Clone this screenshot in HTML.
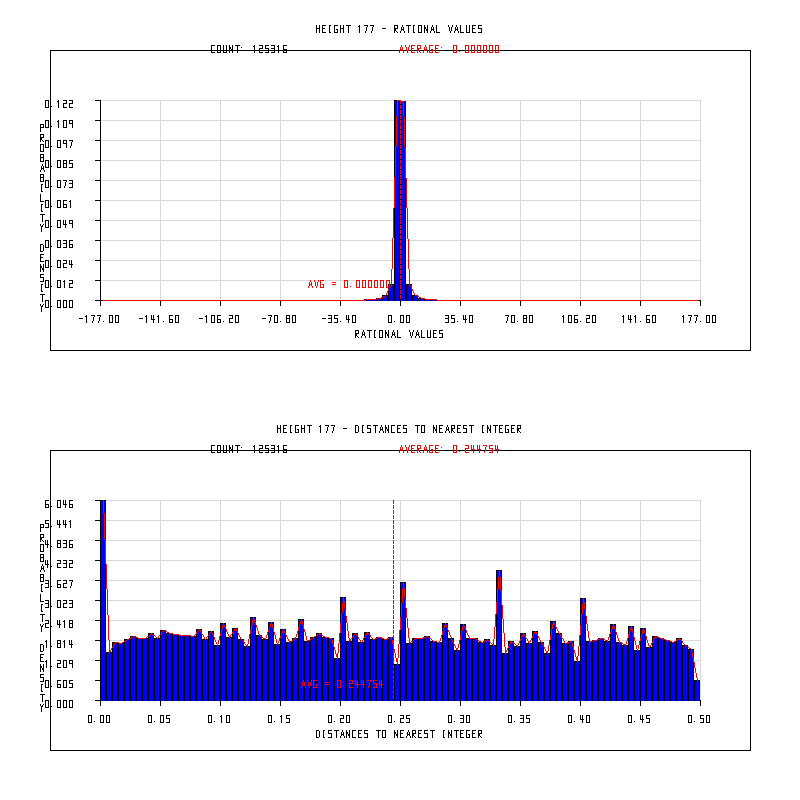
<!DOCTYPE html>
<html><head><meta charset="utf-8"><style>
html,body{margin:0;padding:0;background:#fff;width:800px;height:800px;overflow:hidden}
svg{display:block}
</style></head><body>
<svg width="800" height="800" viewBox="0 0 800 800" shape-rendering="crispEdges">
<rect width="800" height="800" fill="#ffffff"/>
<path fill="#000000" d="M370 25h4v1h-4zM413 25h2v1h-2zM394 25h4v1h-4zM334 25h4v1h-4zM472 25h4v1h-4zM406 25h5v1h-5zM418 25h4v1h-4zM346 25h5v1h-5zM478 25h4v1h-4zM322 25h4v1h-4zM364 25h4v1h-4zM359 25h1v1h-1zM329 25h2v1h-2zM402 25h1v2h-1zM432 25h1v2h-1zM456 25h1v2h-1zM424 25h1v2h-1zM452 25h1v2h-1zM448 25h1v2h-1zM358 26h2v1h-2zM367 26h1v1h-1zM373 26h1v1h-1zM316 25h1v3h-1zM343 25h1v3h-1zM340 25h1v3h-1zM319 25h1v3h-1zM397 26h1v2h-1zM394 26h1v2h-1zM472 26h1v2h-1zM478 26h1v2h-1zM322 26h1v2h-1zM427 25h1v4h-1zM403 27h1v2h-1zM431 27h1v2h-1zM424 27h2v2h-2zM455 27h1v2h-1zM433 27h1v2h-1zM401 27h1v2h-1zM457 27h1v2h-1zM322 28h3v1h-3zM394 28h4v1h-4zM316 28h4v1h-4zM340 28h4v1h-4zM478 28h4v1h-4zM382 28h4v1h-4zM472 28h3v1h-3zM401 29h3v1h-3zM336 29h2v1h-2zM431 29h3v1h-3zM455 29h3v1h-3zM366 27h1v4h-1zM449 27h1v4h-1zM372 27h1v4h-1zM451 27h1v4h-1zM394 29h2v2h-2zM426 29h2v2h-2zM403 30h1v1h-1zM431 30h1v1h-1zM455 30h1v1h-1zM433 30h1v1h-1zM401 30h1v1h-1zM457 30h1v1h-1zM466 25h1v7h-1zM436 25h1v7h-1zM469 25h1v7h-1zM460 25h1v7h-1zM329 26h1v6h-1zM421 26h1v6h-1zM334 26h1v6h-1zM413 26h1v6h-1zM418 26h1v6h-1zM481 29h1v3h-1zM472 29h1v3h-1zM322 29h1v3h-1zM337 30h1v2h-1zM396 31h1v1h-1zM348 26h1v7h-1zM408 26h1v7h-1zM359 27h1v6h-1zM316 29h1v4h-1zM343 29h1v4h-1zM340 29h1v4h-1zM424 29h1v4h-1zM319 29h1v4h-1zM434 31h1v2h-1zM394 31h1v2h-1zM458 31h1v2h-1zM430 31h1v2h-1zM371 31h1v2h-1zM427 31h1v2h-1zM454 31h1v2h-1zM450 31h1v2h-1zM404 31h1v2h-1zM400 31h1v2h-1zM365 31h1v2h-1zM466 32h4v1h-4zM413 32h2v1h-2zM397 32h1v1h-1zM334 32h4v1h-4zM472 32h4v1h-4zM436 32h4v1h-4zM418 32h4v1h-4zM478 32h4v1h-4zM322 32h4v1h-4zM460 32h4v1h-4zM329 32h2v1h-2zM254 45h1v1h-1zM283 45h4v1h-4zM217 45h4v1h-4zM259 45h4v1h-4zM211 45h4v1h-4zM278 45h1v1h-1zM265 45h4v1h-4zM271 45h4v1h-4zM235 45h5v1h-5zM229 45h1v2h-1zM253 46h2v1h-2zM277 46h2v1h-2zM262 46h1v2h-1zM265 46h1v2h-1zM274 46h1v2h-1zM241 47h1v1h-1zM232 45h1v4h-1zM283 46h1v3h-1zM229 47h2v2h-2zM259 48h4v1h-4zM265 48h4v1h-4zM271 48h4v1h-4zM226 45h1v5h-1zM223 45h1v5h-1zM217 46h1v4h-1zM237 46h1v4h-1zM211 46h1v4h-1zM220 46h1v4h-1zM254 47h1v3h-1zM278 47h1v3h-1zM283 49h4v1h-4zM231 49h2v1h-2zM259 49h1v1h-1zM229 49h1v1h-1zM274 49h1v1h-1zM268 49h1v1h-1zM425 50h1v1h-1zM427 50h2v1h-2zM436 50h5v1h-5zM454 50h2v1h-2zM407 50h1v1h-1zM496 50h2v1h-2zM469 50h2v1h-2zM478 50h2v1h-2zM487 50h2v1h-2zM409 50h2v1h-2zM419 50h5v1h-5zM433 50h2v1h-2zM442 50h11v1h-11zM403 50h3v1h-3zM484 50h2v1h-2zM493 50h2v1h-2zM466 50h2v1h-2zM457 50h8v1h-8zM475 50h2v1h-2zM481 50h2v1h-2zM401 50h1v1h-1zM490 50h2v1h-2zM430 50h2v1h-2zM499 50h252v1h-252zM412 50h5v1h-5zM472 50h2v1h-2zM50 50h350v1h-350zM286 51h1v1h-1zM283 51h1v1h-1zM217 51h1v1h-1zM259 51h1v1h-1zM211 51h1v1h-1zM220 51h1v1h-1zM226 51h1v1h-1zM274 51h1v1h-1zM268 51h1v1h-1zM223 51h1v1h-1zM254 51h1v2h-1zM237 51h1v2h-1zM229 51h1v2h-1zM232 51h1v2h-1zM278 51h1v2h-1zM283 52h4v1h-4zM217 52h4v1h-4zM259 52h4v1h-4zM211 52h4v1h-4zM265 52h4v1h-4zM223 52h4v1h-4zM271 52h4v1h-4zM45 100h4v1h-4zM394 100h3v1h-3zM58 100h1v1h-1zM63 100h4v1h-4zM69 100h4v1h-4zM95 100h6v1h-6zM57 101h2v1h-2zM404 101h2v1h-2zM72 101h1v2h-1zM66 101h1v2h-1zM399 101h1v3h-1zM63 103h4v1h-4zM69 103h4v1h-4zM399 104h2v1h-2zM50 51h1v55h-1zM45 101h1v6h-1zM48 101h1v6h-1zM63 104h1v3h-1zM69 104h1v3h-1zM50 106h2v1h-2zM58 102h1v6h-1zM45 107h4v1h-4zM63 107h4v1h-4zM69 107h4v1h-4zM399 105h1v4h-1zM399 109h2v1h-2zM399 110h1v4h-1zM399 114h2v1h-2zM399 115h1v4h-1zM100 101h1v19h-1zM399 119h2v1h-2zM45 120h4v1h-4zM58 120h1v1h-1zM63 120h4v1h-4zM69 120h4v1h-4zM95 120h6v1h-6zM57 121h2v1h-2zM72 121h1v2h-1zM69 121h1v2h-1zM399 120h1v4h-1zM69 123h4v1h-4zM40 124h4v1h-4zM399 124h2v1h-2zM50 107h1v19h-1zM45 121h1v6h-1zM63 121h1v6h-1zM48 121h1v6h-1zM66 121h1v6h-1zM40 125h1v2h-1zM43 125h1v2h-1zM50 126h2v1h-2zM58 122h1v6h-1zM72 124h1v4h-1zM45 127h4v1h-4zM63 127h4v1h-4zM40 127h4v1h-4zM399 125h1v4h-1zM399 129h2v1h-2zM40 128h1v4h-1zM399 130h1v4h-1zM40 134h4v1h-4zM399 134h2v1h-2zM40 135h1v2h-1zM43 135h1v2h-1zM40 137h4v1h-4zM399 135h1v4h-1zM100 121h1v19h-1zM40 138h2v2h-2zM399 139h2v1h-2zM45 140h4v1h-4zM63 140h4v1h-4zM57 140h4v1h-4zM42 140h1v1h-1zM69 140h4v1h-4zM95 140h6v1h-6zM40 140h1v2h-1zM72 141h1v1h-1zM43 141h1v1h-1zM63 141h1v2h-1zM66 141h1v2h-1zM399 140h1v4h-1zM63 143h4v1h-4zM40 144h4v1h-4zM399 144h2v1h-2zM50 127h1v19h-1zM71 142h1v4h-1zM405 102h1v45h-1zM45 141h1v6h-1zM48 141h1v6h-1zM57 141h1v6h-1zM60 141h1v6h-1zM50 146h2v1h-2zM66 144h1v4h-1zM70 146h1v2h-1zM45 147h4v1h-4zM57 147h4v1h-4zM399 145h1v4h-1zM399 149h2v1h-2zM40 145h1v6h-1zM43 145h1v6h-1zM40 151h4v1h-4zM399 150h1v4h-1zM40 154h4v1h-4zM399 154h2v1h-2zM40 155h1v2h-1zM43 155h1v2h-1zM40 157h4v1h-4zM399 155h1v4h-1zM100 141h1v19h-1zM399 159h2v1h-2zM40 158h1v3h-1zM43 158h1v3h-1zM45 160h4v1h-4zM63 160h4v1h-4zM57 160h4v1h-4zM69 160h4v1h-4zM95 160h6v1h-6zM40 161h4v1h-4zM63 161h1v2h-1zM66 161h1v2h-1zM69 161h1v2h-1zM399 160h1v4h-1zM63 163h4v1h-4zM69 163h4v1h-4zM399 164h2v1h-2zM50 147h1v19h-1zM42 164h1v2h-1zM45 161h1v6h-1zM48 161h1v6h-1zM57 161h1v6h-1zM60 161h1v6h-1zM72 164h1v3h-1zM63 164h1v3h-1zM66 164h1v3h-1zM50 166h2v1h-2zM41 166h1v2h-1zM43 166h1v2h-1zM45 167h4v1h-4zM63 167h4v1h-4zM57 167h4v1h-4zM69 167h4v1h-4zM399 165h1v4h-1zM41 168h3v1h-3zM41 169h1v1h-1zM43 169h1v1h-1zM399 169h2v1h-2zM44 170h1v2h-1zM40 170h1v2h-1zM399 170h1v4h-1zM40 174h4v1h-4zM399 174h2v1h-2zM394 101h1v76h-1zM40 175h1v2h-1zM43 175h1v2h-1zM40 177h4v1h-4zM399 175h1v4h-1zM100 161h1v19h-1zM399 179h2v1h-2zM40 178h1v3h-1zM43 178h1v3h-1zM45 180h4v1h-4zM63 180h4v1h-4zM57 180h4v1h-4zM69 180h4v1h-4zM95 180h6v1h-6zM66 181h1v1h-1zM40 181h4v1h-4zM72 181h1v2h-1zM399 180h1v4h-1zM69 183h4v1h-4zM41 184h2v1h-2zM399 184h2v1h-2zM50 167h1v19h-1zM65 182h1v4h-1zM45 181h1v6h-1zM48 181h1v6h-1zM57 181h1v6h-1zM60 181h1v6h-1zM72 184h1v3h-1zM50 186h2v1h-2zM64 186h1v2h-1zM45 187h4v1h-4zM57 187h4v1h-4zM69 187h4v1h-4zM399 185h1v4h-1zM399 189h2v1h-2zM41 185h1v6h-1zM41 191h2v1h-2zM399 190h1v4h-1zM399 194h2v1h-2zM399 195h1v4h-1zM100 181h1v19h-1zM399 199h2v1h-2zM40 194h1v7h-1zM45 200h4v1h-4zM70 200h1v1h-1zM63 200h4v1h-4zM57 200h4v1h-4zM95 200h6v1h-6zM69 201h2v1h-2zM40 201h4v1h-4zM399 200h1v4h-1zM63 201h1v3h-1zM41 204h2v1h-2zM63 204h4v1h-4zM399 204h2v1h-2zM50 187h1v19h-1zM45 201h1v6h-1zM48 201h1v6h-1zM57 201h1v6h-1zM60 201h1v6h-1zM63 205h1v2h-1zM66 205h1v2h-1zM50 206h2v1h-2zM70 202h1v6h-1zM45 207h4v1h-4zM63 207h4v1h-4zM57 207h4v1h-4zM399 205h1v4h-1zM399 209h2v1h-2zM41 205h1v6h-1zM41 211h2v1h-2zM399 210h1v4h-1zM40 214h5v1h-5zM399 214h2v1h-2zM399 215h1v4h-1zM100 201h1v19h-1zM399 219h2v1h-2zM45 220h4v1h-4zM57 220h4v1h-4zM69 220h4v1h-4zM95 220h6v1h-6zM42 215h1v7h-1zM72 221h1v2h-1zM69 221h1v2h-1zM65 220h1v4h-1zM63 220h1v4h-1zM399 220h1v4h-1zM69 223h4v1h-4zM63 224h4v1h-4zM43 224h1v1h-1zM399 224h2v1h-2zM50 207h1v19h-1zM40 224h1v2h-1zM42 225h1v1h-1zM45 221h1v6h-1zM48 221h1v6h-1zM57 221h1v6h-1zM60 221h1v6h-1zM41 226h2v1h-2zM50 226h2v1h-2zM72 224h1v4h-1zM65 225h1v3h-1zM45 227h4v1h-4zM57 227h4v1h-4zM399 225h1v4h-1zM399 229h2v1h-2zM41 227h1v5h-1zM399 230h1v4h-1zM399 234h2v1h-2zM399 235h1v4h-1zM100 221h1v19h-1zM399 239h2v1h-2zM45 240h4v1h-4zM63 240h4v1h-4zM57 240h4v1h-4zM69 240h4v1h-4zM95 240h6v1h-6zM66 241h1v2h-1zM399 240h1v4h-1zM69 241h1v3h-1zM63 243h4v1h-4zM40 244h3v1h-3zM69 244h4v1h-4zM399 244h2v1h-2zM50 227h1v19h-1zM45 241h1v6h-1zM48 241h1v6h-1zM57 241h1v6h-1zM60 241h1v6h-1zM66 244h1v3h-1zM72 245h1v2h-1zM69 245h1v2h-1zM50 246h2v1h-2zM45 247h4v1h-4zM63 247h4v1h-4zM57 247h4v1h-4zM69 247h4v1h-4zM399 245h1v4h-1zM399 249h2v1h-2zM40 245h1v6h-1zM43 245h1v6h-1zM40 251h3v1h-3zM399 250h1v4h-1zM40 254h4v1h-4zM399 254h2v1h-2zM40 255h1v2h-1zM40 257h3v1h-3zM399 255h1v4h-1zM100 241h1v19h-1zM399 259h2v1h-2zM40 258h1v3h-1zM95 260h6v1h-6zM45 260h4v1h-4zM63 260h4v1h-4zM57 260h4v1h-4zM40 261h4v1h-4zM66 261h1v2h-1zM399 260h1v4h-1zM69 260h1v4h-1zM71 260h1v4h-1zM63 263h4v1h-4zM69 264h4v1h-4zM399 264h2v1h-2zM50 247h1v19h-1zM40 264h1v2h-1zM45 261h1v6h-1zM48 261h1v6h-1zM57 261h1v6h-1zM60 261h1v6h-1zM63 264h1v3h-1zM50 266h2v1h-2zM43 264h1v4h-1zM71 265h1v3h-1zM40 266h2v2h-2zM45 267h4v1h-4zM63 267h4v1h-4zM57 267h4v1h-4zM399 265h1v4h-1zM42 268h2v2h-2zM399 269h2v1h-2zM40 268h1v4h-1zM43 270h1v2h-1zM399 270h1v4h-1zM40 274h4v1h-4zM399 274h2v1h-2zM40 275h1v2h-1zM40 277h4v1h-4zM399 275h1v4h-1zM100 261h1v19h-1zM399 279h2v1h-2zM43 278h1v3h-1zM45 280h4v1h-4zM64 280h1v1h-1zM57 280h4v1h-4zM69 280h4v1h-4zM95 280h6v1h-6zM40 281h4v1h-4zM63 281h2v1h-2zM72 281h1v2h-1zM405 178h1v106h-1zM394 208h1v76h-1zM399 280h1v4h-1zM69 283h4v1h-4zM41 284h2v1h-2zM410 284h2v1h-2zM392 284h3v1h-3zM390 284h1v1h-1zM399 284h2v1h-2zM405 284h4v1h-4zM50 267h1v19h-1zM45 281h1v6h-1zM48 281h1v6h-1zM57 281h1v6h-1zM60 281h1v6h-1zM388 284h1v3h-1zM69 284h1v3h-1zM411 285h1v2h-1zM50 286h2v1h-2zM64 282h1v6h-1zM45 287h4v1h-4zM57 287h4v1h-4zM69 287h4v1h-4zM399 285h1v4h-1zM388 288h1v1h-1zM399 289h2v1h-2zM41 285h1v6h-1zM41 291h2v1h-2zM399 290h1v4h-1zM411 289h1v6h-1zM388 291h1v4h-1zM40 294h5v1h-5zM399 294h2v1h-2zM417 295h1v1h-1zM386 295h3v1h-3zM411 295h4v1h-4zM382 295h3v1h-3zM382 296h1v1h-1zM417 297h1v1h-1zM399 295h1v4h-1zM417 298h4v1h-4zM376 298h1v1h-1zM100 281h1v19h-1zM364 299h1v1h-1zM393 285h2v16h-2zM405 285h2v16h-2zM411 296h2v5h-2zM387 296h2v5h-2zM381 298h2v3h-2zM423 299h2v2h-2zM399 299h2v2h-2zM417 299h2v2h-2zM45 300h4v1h-4zM63 300h4v1h-4zM69 300h4v1h-4zM369 300h2v1h-2zM429 300h2v1h-2zM375 300h2v1h-2zM95 300h8v1h-8zM57 300h4v1h-4zM435 300h2v1h-2zM698 300h3v1h-3zM42 295h1v7h-1zM43 304h1v1h-1zM50 287h1v19h-1zM100 301h1v5h-1zM160 301h1v5h-1zM220 301h1v5h-1zM280 301h1v5h-1zM340 301h1v5h-1zM400 301h1v5h-1zM460 301h1v5h-1zM520 301h1v5h-1zM640 301h1v5h-1zM580 301h1v5h-1zM700 301h1v5h-1zM40 304h1v2h-1zM42 305h1v1h-1zM72 301h1v6h-1zM45 301h1v6h-1zM63 301h1v6h-1zM60 301h1v6h-1zM69 301h1v6h-1zM48 301h1v6h-1zM57 301h1v6h-1zM66 301h1v6h-1zM41 306h2v1h-2zM50 306h2v1h-2zM45 307h4v1h-4zM63 307h4v1h-4zM57 307h4v1h-4zM69 307h4v1h-4zM41 307h1v5h-1zM586 315h4v1h-4zM388 315h4v1h-4zM292 315h4v1h-4zM623 315h1v1h-1zM86 315h1v1h-1zM563 315h1v1h-1zM352 315h4v1h-4zM169 315h4v1h-4zM274 315h4v1h-4zM683 315h1v1h-1zM646 315h4v1h-4zM334 315h4v1h-4zM91 315h4v1h-4zM109 315h4v1h-4zM206 315h1v1h-1zM688 315h4v1h-4zM568 315h4v1h-4zM706 315h4v1h-4zM146 315h1v1h-1zM523 315h4v1h-4zM445 315h4v1h-4zM211 315h4v1h-4zM229 315h4v1h-4zM574 315h4v1h-4zM592 315h4v1h-4zM505 315h4v1h-4zM97 315h4v1h-4zM652 315h4v1h-4zM235 315h4v1h-4zM115 315h4v1h-4zM694 315h4v1h-4zM469 315h4v1h-4zM712 315h4v1h-4zM400 315h4v1h-4zM175 315h4v1h-4zM529 315h4v1h-4zM451 315h4v1h-4zM268 315h4v1h-4zM406 315h4v1h-4zM511 315h4v1h-4zM286 315h4v1h-4zM635 315h1v1h-1zM217 315h4v1h-4zM328 315h4v1h-4zM158 315h1v1h-1zM691 316h1v1h-1zM508 316h1v1h-1zM100 316h1v1h-1zM157 316h2v1h-2zM634 316h2v1h-2zM697 316h1v1h-1zM271 316h1v1h-1zM562 316h2v1h-2zM85 316h2v1h-2zM682 316h2v1h-2zM145 316h2v1h-2zM622 316h2v1h-2zM205 316h2v1h-2zM94 316h1v1h-1zM526 316h1v2h-1zM334 316h1v2h-1zM523 316h1v2h-1zM289 316h1v2h-1zM331 316h1v2h-1zM451 316h1v2h-1zM286 316h1v2h-1zM589 316h1v2h-1zM448 316h1v2h-1zM232 316h1v2h-1zM628 315h1v4h-1zM348 315h1v4h-1zM151 315h1v4h-1zM463 315h1v4h-1zM465 315h1v4h-1zM630 315h1v4h-1zM346 315h1v4h-1zM153 315h1v4h-1zM169 316h1v3h-1zM646 316h1v3h-1zM574 316h1v3h-1zM217 316h1v3h-1zM79 318h4v1h-4zM451 318h4v1h-4zM328 318h4v1h-4zM334 318h4v1h-4zM523 318h4v1h-4zM586 318h4v1h-4zM139 318h4v1h-4zM286 318h4v1h-4zM445 318h4v1h-4zM229 318h4v1h-4zM262 318h4v1h-4zM322 318h4v1h-4zM199 318h4v1h-4zM169 319h4v1h-4zM628 319h4v1h-4zM646 319h4v1h-4zM463 319h4v1h-4zM151 319h4v1h-4zM574 319h4v1h-4zM217 319h4v1h-4zM346 319h4v1h-4zM99 317h1v4h-1zM696 317h1v4h-1zM270 317h1v4h-1zM93 317h1v4h-1zM690 317h1v4h-1zM507 317h1v4h-1zM292 316h1v6h-1zM388 316h1v6h-1zM118 316h1v6h-1zM655 316h1v6h-1zM352 316h1v6h-1zM715 316h1v6h-1zM274 316h1v6h-1zM178 316h1v6h-1zM403 316h1v6h-1zM109 316h1v6h-1zM238 316h1v6h-1zM568 316h1v6h-1zM472 316h1v6h-1zM706 316h1v6h-1zM532 316h1v6h-1zM211 316h1v6h-1zM592 316h1v6h-1zM514 316h1v6h-1zM652 316h1v6h-1zM115 316h1v6h-1zM469 316h1v6h-1zM235 316h1v6h-1zM175 316h1v6h-1zM391 316h1v6h-1zM400 316h1v6h-1zM529 316h1v6h-1zM712 316h1v6h-1zM409 316h1v6h-1zM511 316h1v6h-1zM277 316h1v6h-1zM295 316h1v6h-1zM406 316h1v6h-1zM112 316h1v6h-1zM571 316h1v6h-1zM355 316h1v6h-1zM709 316h1v6h-1zM214 316h1v6h-1zM595 316h1v6h-1zM526 319h1v3h-1zM523 319h1v3h-1zM289 319h1v3h-1zM229 319h1v3h-1zM454 319h1v3h-1zM331 319h1v3h-1zM286 319h1v3h-1zM337 319h1v3h-1zM448 319h1v3h-1zM586 319h1v3h-1zM577 320h1v2h-1zM169 320h1v2h-1zM646 320h1v2h-1zM220 320h1v2h-1zM574 320h1v2h-1zM217 320h1v2h-1zM649 320h1v2h-1zM172 320h1v2h-1zM163 321h1v1h-1zM280 321h1v1h-1zM103 321h1v1h-1zM640 321h1v1h-1zM457 321h1v1h-1zM394 321h1v1h-1zM340 321h1v1h-1zM580 321h1v1h-1zM700 321h1v1h-1zM517 321h1v1h-1zM223 321h1v1h-1zM623 317h1v6h-1zM86 317h1v6h-1zM563 317h1v6h-1zM683 317h1v6h-1zM206 317h1v6h-1zM146 317h1v6h-1zM635 317h1v6h-1zM158 317h1v6h-1zM348 320h1v3h-1zM465 320h1v3h-1zM630 320h1v3h-1zM153 320h1v3h-1zM689 321h1v2h-1zM269 321h1v2h-1zM695 321h1v2h-1zM92 321h1v2h-1zM506 321h1v2h-1zM98 321h1v2h-1zM586 322h4v1h-4zM388 322h4v1h-4zM292 322h4v1h-4zM352 322h4v1h-4zM169 322h4v1h-4zM274 322h4v1h-4zM646 322h4v1h-4zM334 322h4v1h-4zM109 322h4v1h-4zM568 322h4v1h-4zM706 322h4v1h-4zM523 322h4v1h-4zM445 322h4v1h-4zM211 322h4v1h-4zM229 322h4v1h-4zM574 322h4v1h-4zM592 322h4v1h-4zM652 322h4v1h-4zM235 322h4v1h-4zM115 322h4v1h-4zM469 322h4v1h-4zM712 322h4v1h-4zM400 322h4v1h-4zM175 322h4v1h-4zM529 322h4v1h-4zM451 322h4v1h-4zM406 322h4v1h-4zM511 322h4v1h-4zM286 322h4v1h-4zM217 322h4v1h-4zM328 322h4v1h-4zM379 330h4v1h-4zM367 330h5v1h-5zM439 330h4v1h-4zM374 330h2v1h-2zM433 330h4v1h-4zM355 330h4v1h-4zM393 330h1v2h-1zM417 330h1v2h-1zM385 330h1v2h-1zM413 330h1v2h-1zM363 330h1v2h-1zM409 330h1v2h-1zM439 331h1v2h-1zM358 331h1v2h-1zM433 331h1v2h-1zM355 331h1v2h-1zM388 330h1v4h-1zM416 332h1v2h-1zM394 332h1v2h-1zM362 332h1v2h-1zM418 332h1v2h-1zM364 332h1v2h-1zM392 332h1v2h-1zM385 332h2v2h-2zM439 333h4v1h-4zM433 333h3v1h-3zM355 333h4v1h-4zM392 334h3v1h-3zM416 334h3v1h-3zM362 334h3v1h-3zM412 332h1v4h-1zM410 332h1v4h-1zM387 334h2v2h-2zM355 334h2v2h-2zM416 335h1v1h-1zM394 335h1v1h-1zM362 335h1v1h-1zM418 335h1v1h-1zM364 335h1v1h-1zM392 335h1v1h-1zM397 330h1v7h-1zM430 330h1v7h-1zM421 330h1v7h-1zM427 330h1v7h-1zM379 331h1v6h-1zM382 331h1v6h-1zM374 331h1v6h-1zM433 334h1v3h-1zM442 334h1v3h-1zM357 336h1v1h-1zM369 331h1v7h-1zM385 334h1v4h-1zM361 336h1v2h-1zM388 336h1v2h-1zM395 336h1v2h-1zM391 336h1v2h-1zM419 336h1v2h-1zM415 336h1v2h-1zM355 336h1v2h-1zM365 336h1v2h-1zM411 336h1v2h-1zM379 337h4v1h-4zM397 337h4v1h-4zM439 337h4v1h-4zM421 337h4v1h-4zM427 337h4v1h-4zM358 337h1v1h-1zM374 337h2v1h-2zM433 337h4v1h-4zM750 51h1v299h-1zM50 307h1v43h-1zM50 350h701v1h-701zM457 425h4v1h-4zM482 425h2v1h-2zM307 425h5v1h-5zM283 425h4v1h-4zM517 425h4v1h-4zM397 425h4v1h-4zM320 425h1v1h-1zM439 425h4v1h-4zM499 425h4v1h-4zM355 425h3v1h-3zM290 425h2v1h-2zM403 425h4v1h-4zM421 425h4v1h-4zM469 425h5v1h-5zM325 425h4v1h-4zM373 425h5v1h-5zM463 425h4v1h-4zM367 425h4v1h-4zM415 425h5v1h-5zM505 425h4v1h-4zM331 425h4v1h-4zM493 425h5v1h-5zM391 425h4v1h-4zM451 425h4v1h-4zM295 425h4v1h-4zM511 425h4v1h-4zM362 425h2v1h-2zM385 425h1v2h-1zM381 425h1v2h-1zM487 425h1v2h-1zM433 425h1v2h-1zM447 425h1v2h-1zM334 426h1v1h-1zM319 426h2v1h-2zM328 426h1v1h-1zM301 425h1v3h-1zM280 425h1v3h-1zM304 425h1v3h-1zM277 425h1v3h-1zM283 426h1v2h-1zM397 426h1v2h-1zM517 426h1v2h-1zM439 426h1v2h-1zM499 426h1v2h-1zM403 426h1v2h-1zM463 426h1v2h-1zM454 426h1v2h-1zM367 426h1v2h-1zM451 426h1v2h-1zM511 426h1v2h-1zM520 426h1v2h-1zM457 426h1v2h-1zM388 425h1v4h-1zM490 425h1v4h-1zM436 425h1v4h-1zM380 427h1v2h-1zM487 427h2v2h-2zM433 427h2v2h-2zM382 427h1v2h-1zM446 427h1v2h-1zM385 427h2v2h-2zM448 427h1v2h-1zM301 428h4v1h-4zM511 428h3v1h-3zM517 428h4v1h-4zM403 428h4v1h-4zM463 428h4v1h-4zM343 428h4v1h-4zM457 428h3v1h-3zM283 428h3v1h-3zM397 428h3v1h-3zM367 428h4v1h-4zM439 428h3v1h-3zM499 428h3v1h-3zM451 428h4v1h-4zM277 428h4v1h-4zM507 429h2v1h-2zM380 429h3v1h-3zM297 429h2v1h-2zM446 429h3v1h-3zM333 427h1v4h-1zM327 427h1v4h-1zM387 429h2v2h-2zM451 429h2v2h-2zM489 429h2v2h-2zM517 429h2v2h-2zM435 429h2v2h-2zM380 430h1v1h-1zM382 430h1v1h-1zM446 430h1v1h-1zM448 430h1v1h-1zM421 426h1v6h-1zM482 426h1v6h-1zM362 426h1v6h-1zM358 426h1v6h-1zM505 426h1v6h-1zM290 426h1v6h-1zM391 426h1v6h-1zM295 426h1v6h-1zM424 426h1v6h-1zM355 426h1v6h-1zM370 429h1v3h-1zM283 429h1v3h-1zM397 429h1v3h-1zM466 429h1v3h-1zM439 429h1v3h-1zM499 429h1v3h-1zM511 429h1v3h-1zM406 429h1v3h-1zM457 429h1v3h-1zM508 430h1v2h-1zM298 430h1v2h-1zM453 431h1v1h-1zM519 431h1v1h-1zM471 426h1v7h-1zM375 426h1v7h-1zM495 426h1v7h-1zM417 426h1v7h-1zM309 426h1v7h-1zM320 427h1v6h-1zM301 429h1v4h-1zM385 429h1v4h-1zM280 429h1v4h-1zM487 429h1v4h-1zM304 429h1v4h-1zM277 429h1v4h-1zM433 429h1v4h-1zM379 431h1v2h-1zM388 431h1v2h-1zM517 431h1v2h-1zM490 431h1v2h-1zM449 431h1v2h-1zM436 431h1v2h-1zM445 431h1v2h-1zM326 431h1v2h-1zM332 431h1v2h-1zM451 431h1v2h-1zM383 431h1v2h-1zM457 432h4v1h-4zM482 432h2v1h-2zM283 432h4v1h-4zM397 432h4v1h-4zM439 432h4v1h-4zM499 432h4v1h-4zM355 432h3v1h-3zM290 432h2v1h-2zM403 432h4v1h-4zM421 432h4v1h-4zM463 432h4v1h-4zM454 432h1v1h-1zM367 432h4v1h-4zM505 432h4v1h-4zM391 432h4v1h-4zM520 432h1v1h-1zM295 432h4v1h-4zM511 432h4v1h-4zM362 432h2v1h-2zM254 445h1v1h-1zM283 445h4v1h-4zM217 445h4v1h-4zM259 445h4v1h-4zM211 445h4v1h-4zM278 445h1v1h-1zM265 445h4v1h-4zM271 445h4v1h-4zM235 445h5v1h-5zM229 445h1v2h-1zM253 446h2v1h-2zM277 446h2v1h-2zM262 446h1v2h-1zM265 446h1v2h-1zM274 446h1v2h-1zM241 447h1v1h-1zM232 445h1v4h-1zM283 446h1v3h-1zM229 447h2v2h-2zM259 448h4v1h-4zM265 448h4v1h-4zM271 448h4v1h-4zM226 445h1v5h-1zM223 445h1v5h-1zM217 446h1v4h-1zM237 446h1v4h-1zM211 446h1v4h-1zM220 446h1v4h-1zM254 447h1v3h-1zM278 447h1v3h-1zM283 449h4v1h-4zM231 449h2v1h-2zM259 449h1v1h-1zM229 449h1v1h-1zM274 449h1v1h-1zM268 449h1v1h-1zM425 450h1v1h-1zM427 450h2v1h-2zM466 450h7v1h-7zM436 450h5v1h-5zM454 450h2v1h-2zM407 450h1v1h-1zM498 450h253v1h-253zM409 450h2v1h-2zM474 450h5v1h-5zM419 450h5v1h-5zM433 450h2v1h-2zM442 450h11v1h-11zM403 450h3v1h-3zM486 450h6v1h-6zM457 450h8v1h-8zM480 450h5v1h-5zM401 450h1v1h-1zM430 450h2v1h-2zM412 450h5v1h-5zM493 450h4v1h-4zM50 450h350v1h-350zM286 451h1v1h-1zM283 451h1v1h-1zM217 451h1v1h-1zM259 451h1v1h-1zM211 451h1v1h-1zM220 451h1v1h-1zM226 451h1v1h-1zM274 451h1v1h-1zM268 451h1v1h-1zM223 451h1v1h-1zM254 451h1v2h-1zM237 451h1v2h-1zM229 451h1v2h-1zM232 451h1v2h-1zM278 451h1v2h-1zM283 452h4v1h-4zM217 452h4v1h-4zM259 452h4v1h-4zM211 452h4v1h-4zM265 452h4v1h-4zM223 452h4v1h-4zM271 452h4v1h-4zM45 500h4v1h-4zM104 500h2v1h-2zM95 500h8v1h-8zM57 500h4v1h-4zM69 500h4v1h-4zM65 500h1v4h-1zM63 500h1v4h-1zM45 501h1v3h-1zM69 501h1v3h-1zM45 504h4v1h-4zM63 504h4v1h-4zM69 504h4v1h-4zM50 451h1v55h-1zM57 501h1v6h-1zM60 501h1v6h-1zM72 505h1v2h-1zM45 505h1v2h-1zM48 505h1v2h-1zM69 505h1v2h-1zM50 506h2v1h-2zM65 505h1v3h-1zM45 507h4v1h-4zM57 507h4v1h-4zM69 507h4v1h-4zM100 501h1v19h-1zM45 520h4v1h-4zM70 520h1v1h-1zM95 520h6v1h-6zM69 521h2v1h-2zM45 521h1v2h-1zM65 520h1v4h-1zM63 520h1v4h-1zM57 520h1v4h-1zM59 520h1v4h-1zM45 523h4v1h-4zM63 524h4v1h-4zM57 524h4v1h-4zM40 524h4v1h-4zM50 507h1v19h-1zM48 524h1v3h-1zM40 525h1v2h-1zM43 525h1v2h-1zM50 526h2v1h-2zM70 522h1v6h-1zM65 525h1v3h-1zM59 525h1v3h-1zM45 527h4v1h-4zM40 527h4v1h-4zM40 528h1v4h-1zM40 534h4v1h-4zM40 535h1v2h-1zM43 535h1v2h-1zM40 537h4v1h-4zM105 501h1v38h-1zM100 521h1v19h-1zM40 538h2v2h-2zM63 540h4v1h-4zM57 540h4v1h-4zM42 540h1v1h-1zM69 540h4v1h-4zM95 540h6v1h-6zM40 540h1v2h-1zM43 541h1v1h-1zM57 541h1v2h-1zM66 541h1v2h-1zM60 541h1v2h-1zM45 540h1v4h-1zM47 540h1v4h-1zM69 541h1v3h-1zM63 543h4v1h-4zM57 543h4v1h-4zM45 544h4v1h-4zM40 544h4v1h-4zM69 544h4v1h-4zM50 527h1v19h-1zM57 544h1v3h-1zM66 544h1v3h-1zM60 544h1v3h-1zM72 545h1v2h-1zM69 545h1v2h-1zM50 546h2v1h-2zM47 545h1v3h-1zM63 547h4v1h-4zM57 547h4v1h-4zM69 547h4v1h-4zM40 545h1v6h-1zM43 545h1v6h-1zM40 551h4v1h-4zM40 554h4v1h-4zM40 555h1v2h-1zM43 555h1v2h-1zM40 557h4v1h-4zM100 541h1v19h-1zM40 558h1v3h-1zM43 558h1v3h-1zM63 560h4v1h-4zM57 560h4v1h-4zM69 560h4v1h-4zM95 560h6v1h-6zM40 561h4v1h-4zM72 561h1v2h-1zM66 561h1v2h-1zM60 561h1v2h-1zM45 560h1v4h-1zM47 560h1v4h-1zM63 563h4v1h-4zM57 563h4v1h-4zM69 563h4v1h-4zM45 564h4v1h-4zM50 547h1v19h-1zM42 564h1v2h-1zM57 564h1v3h-1zM66 564h1v3h-1zM69 564h1v3h-1zM50 566h2v1h-2zM47 565h1v3h-1zM41 566h1v2h-1zM43 566h1v2h-1zM63 567h4v1h-4zM57 567h4v1h-4zM69 567h4v1h-4zM41 568h3v1h-3zM41 569h1v1h-1zM43 569h1v1h-1zM500 570h2v1h-2zM496 570h3v1h-3zM44 570h1v2h-1zM40 570h1v2h-1zM40 574h4v1h-4zM40 575h1v2h-1zM43 575h1v2h-1zM40 577h4v1h-4zM100 561h1v19h-1zM40 578h1v3h-1zM43 578h1v3h-1zM45 580h4v1h-4zM63 580h4v1h-4zM57 580h4v1h-4zM69 580h4v1h-4zM95 580h6v1h-6zM72 581h1v1h-1zM40 581h4v1h-4zM48 581h1v2h-1zM66 581h1v2h-1zM400 582h3v1h-3zM404 582h2v1h-2zM57 581h1v3h-1zM45 583h4v1h-4zM63 583h4v1h-4zM41 584h2v1h-2zM57 584h4v1h-4zM50 567h1v19h-1zM71 582h1v4h-1zM63 584h1v3h-1zM48 584h1v3h-1zM57 585h1v2h-1zM60 585h1v2h-1zM50 586h2v1h-2zM70 586h1v2h-1zM45 587h4v1h-4zM63 587h4v1h-4zM57 587h4v1h-4zM501 571h1v20h-1zM41 585h1v6h-1zM41 591h2v1h-2zM405 583h1v15h-1zM340 597h3v1h-3zM344 597h2v1h-2zM584 598h2v1h-2zM580 598h3v1h-3zM100 581h1v19h-1zM40 594h1v7h-1zM45 600h4v1h-4zM63 600h4v1h-4zM57 600h4v1h-4zM69 600h4v1h-4zM95 600h6v1h-6zM496 571h1v31h-1zM40 601h4v1h-4zM72 601h1v2h-1zM48 601h1v2h-1zM66 601h1v2h-1zM45 603h4v1h-4zM63 603h4v1h-4zM69 603h4v1h-4zM41 604h2v1h-2zM50 587h1v19h-1zM57 601h1v6h-1zM60 601h1v6h-1zM72 604h1v3h-1zM63 604h1v3h-1zM48 604h1v3h-1zM50 606h2v1h-2zM45 607h4v1h-4zM63 607h4v1h-4zM57 607h4v1h-4zM69 607h4v1h-4zM345 598h1v11h-1zM585 599h1v10h-1zM41 605h1v6h-1zM41 611h2v1h-2zM40 614h5v1h-5zM400 583h1v34h-1zM250 617h3v1h-3zM254 617h2v1h-2zM100 601h1v19h-1zM302 619h2v1h-2zM298 619h3v1h-3zM45 620h4v1h-4zM64 620h1v1h-1zM69 620h4v1h-4zM95 620h6v1h-6zM42 615h1v7h-1zM255 618h1v4h-1zM63 621h2v1h-2zM550 621h3v1h-3zM554 621h2v1h-2zM340 598h1v25h-1zM72 621h1v2h-1zM69 621h1v2h-1zM48 621h1v2h-1zM268 622h3v1h-3zM272 622h2v1h-2zM59 620h1v4h-1zM57 620h1v4h-1zM442 623h3v1h-3zM446 623h2v1h-2zM45 623h4v1h-4zM69 623h4v1h-4zM220 623h3v1h-3zM224 623h2v1h-2zM580 599h1v26h-1zM303 620h1v5h-1zM555 622h1v3h-1zM460 624h3v1h-3zM464 624h2v1h-2zM43 624h1v1h-1zM610 624h3v1h-3zM57 624h4v1h-4zM614 624h2v1h-2zM50 607h1v19h-1zM40 624h1v2h-1zM42 625h1v1h-1zM298 620h1v7h-1zM72 624h1v3h-1zM45 624h1v3h-1zM69 624h1v3h-1zM225 624h1v3h-1zM447 624h1v3h-1zM41 626h2v1h-2zM50 626h2v1h-2zM628 626h3v1h-3zM632 626h2v1h-2zM64 622h1v6h-1zM273 623h1v5h-1zM59 625h1v3h-1zM465 625h1v3h-1zM45 627h4v1h-4zM69 627h4v1h-4zM615 625h1v4h-1zM640 628h3v1h-3zM232 628h3v1h-3zM644 628h2v1h-2zM236 628h2v1h-2zM250 618h1v12h-1zM268 623h1v7h-1zM284 629h2v1h-2zM196 629h3v1h-3zM200 629h2v1h-2zM280 629h3v1h-3zM442 624h1v7h-1zM237 629h1v2h-1zM165 630h1v1h-1zM160 630h3v1h-3zM610 625h1v7h-1zM41 627h1v5h-1zM232 629h1v3h-1zM196 630h1v2h-1zM201 630h1v2h-1zM208 631h3v1h-3zM212 631h2v1h-2zM532 631h3v1h-3zM536 631h2v1h-2zM220 624h1v9h-1zM633 627h1v6h-1zM555 627h1v6h-1zM645 629h1v4h-1zM285 630h1v3h-1zM364 632h3v1h-3zM368 632h2v1h-2zM165 632h1v1h-1zM628 627h1v7h-1zM160 631h1v3h-1zM537 632h1v2h-1zM560 633h2v1h-2zM152 633h2v1h-2zM520 633h3v1h-3zM524 633h2v1h-2zM555 633h4v1h-4zM165 633h4v1h-4zM352 633h3v1h-3zM316 633h3v1h-3zM356 633h2v1h-2zM320 633h2v1h-2zM369 633h1v1h-1zM148 633h3v1h-3zM550 622h1v13h-1zM255 625h1v10h-1zM460 625h1v10h-1zM208 632h1v3h-1zM213 632h1v3h-1zM316 634h1v1h-1zM153 634h1v1h-1zM280 630h1v6h-1zM532 632h1v4h-1zM196 634h1v2h-1zM357 634h1v2h-1zM148 634h1v2h-1zM561 634h1v2h-1zM525 634h1v2h-1zM255 635h4v1h-4zM260 635h2v1h-2zM225 629h1v8h-1zM364 633h1v4h-1zM352 634h1v3h-1zM232 634h1v3h-1zM321 635h1v2h-1zM194 636h3v1h-3zM130 636h3v1h-3zM316 636h1v1h-1zM428 636h2v1h-2zM424 636h2v1h-2zM657 636h1v1h-1zM135 636h1v1h-1zM652 636h3v1h-3zM640 629h1v9h-1zM465 630h1v8h-1zM447 630h1v8h-1zM298 631h1v7h-1zM160 635h1v3h-1zM153 636h1v2h-1zM376 637h2v1h-2zM314 637h3v1h-3zM310 637h3v1h-3zM321 637h4v1h-4zM381 637h1v1h-1zM225 637h4v1h-4zM148 637h1v1h-1zM388 637h2v1h-2zM130 637h1v1h-1zM392 637h1v1h-1zM429 637h1v1h-1zM230 637h3v1h-3zM268 632h1v7h-1zM237 633h1v6h-1zM201 634h1v5h-1zM520 634h1v5h-1zM369 635h1v4h-1zM208 636h1v3h-1zM261 637h1v2h-1zM676 638h3v1h-3zM135 638h3v1h-3zM310 638h1v1h-1zM598 638h2v1h-2zM680 638h2v1h-2zM158 638h3v1h-3zM296 638h3v1h-3zM332 638h2v1h-2zM292 638h3v1h-3zM412 638h3v1h-3zM452 638h2v1h-2zM465 638h4v1h-4zM146 638h3v1h-3zM153 638h4v1h-4zM603 638h1v1h-1zM657 638h3v1h-3zM476 638h2v1h-2zM663 638h1v1h-1zM447 638h4v1h-4zM100 621h1v19h-1zM201 639h4v1h-4zM381 639h3v1h-3zM681 639h1v1h-1zM369 639h4v1h-4zM242 639h2v1h-2zM292 639h1v1h-1zM237 639h4v1h-4zM488 639h2v1h-2zM206 639h3v1h-3zM266 639h3v1h-3zM393 639h1v1h-1zM484 639h3v1h-3zM261 639h4v1h-4zM676 639h1v1h-1zM124 639h3v1h-3zM345 616h1v25h-1zM585 616h1v25h-1zM303 629h1v12h-1zM610 634h1v7h-1zM652 637h1v4h-1zM352 638h1v3h-1zM412 639h1v2h-1zM429 639h1v2h-1zM489 640h1v1h-1zM592 640h1v1h-1zM603 640h1v1h-1zM57 640h4v1h-4zM243 640h1v1h-1zM46 640h1v1h-1zM669 640h1v1h-1zM663 640h3v1h-3zM64 640h1v1h-1zM95 640h6v1h-6zM484 640h1v1h-1zM310 640h1v1h-1zM124 640h1v1h-1zM615 632h1v10h-1zM285 635h1v7h-1zM442 635h1v7h-1zM537 636h1v6h-1zM357 637h1v5h-1zM364 638h1v4h-1zM453 639h1v3h-1zM477 640h1v2h-1zM303 641h4v1h-4zM572 641h2v1h-2zM292 641h1v1h-1zM350 641h3v1h-3zM508 641h3v1h-3zM429 641h4v1h-4zM585 641h4v1h-4zM63 641h2v1h-2zM608 641h3v1h-3zM345 641h4v1h-4zM45 641h2v1h-2zM512 641h2v1h-2zM676 641h1v1h-1zM603 641h4v1h-4zM308 641h3v1h-3zM568 641h2v1h-2zM405 608h1v35h-1zM532 638h1v5h-1zM561 638h1v5h-1zM525 638h1v5h-1zM57 641h1v2h-1zM60 641h1v2h-1zM412 642h1v1h-1zM542 642h2v1h-2zM440 642h3v1h-3zM290 642h3v1h-3zM513 642h1v1h-1zM615 642h4v1h-4zM112 642h3v1h-3zM669 642h3v1h-3zM285 642h4v1h-4zM674 642h3v1h-3zM362 642h3v1h-3zM357 642h4v1h-4zM477 642h4v1h-4zM124 642h1v1h-1zM537 642h4v1h-4zM621 642h1v1h-1zM273 632h1v12h-1zM280 638h1v6h-1zM333 639h1v5h-1zM71 640h1v4h-1zM69 640h1v4h-1zM410 643h3v1h-3zM530 643h3v1h-3zM57 643h4v1h-4zM525 643h4v1h-4zM561 643h4v1h-4zM405 643h4v1h-4zM122 643h3v1h-3zM496 614h1v31h-1zM220 636h1v9h-1zM213 637h1v8h-1zM628 638h1v7h-1zM681 641h1v4h-1zM489 642h1v3h-1zM543 643h1v2h-1zM40 644h3v1h-3zM273 644h4v1h-4zM69 644h4v1h-4zM278 644h3v1h-3zM621 644h1v1h-1zM50 627h1v19h-1zM250 634h1v12h-1zM520 641h1v5h-1zM508 642h1v4h-1zM243 642h1v4h-1zM513 644h1v2h-1zM626 645h3v1h-3zM686 645h2v1h-2zM213 645h4v1h-4zM489 645h4v1h-4zM621 645h4v1h-4zM681 645h4v1h-4zM218 645h3v1h-3zM494 645h3v1h-3zM645 636h1v11h-1zM573 642h1v5h-1zM652 643h1v4h-1zM112 643h1v4h-1zM57 644h1v3h-1zM60 644h1v3h-1zM50 646h2v1h-2zM513 646h4v1h-4zM243 646h4v1h-4zM518 646h3v1h-3zM248 646h3v1h-3zM46 642h1v6h-1zM64 642h1v6h-1zM71 645h1v3h-1zM650 647h3v1h-3zM57 647h4v1h-4zM645 647h4v1h-4zM687 647h1v2h-1zM633 637h1v13h-1zM460 640h1v10h-1zM640 641h1v9h-1zM453 644h1v6h-1zM687 649h4v1h-4zM393 649h1v1h-1zM692 649h2v1h-2zM40 645h1v6h-1zM43 645h1v6h-1zM453 650h4v1h-4zM633 650h4v1h-4zM638 650h3v1h-3zM458 650h3v1h-3zM105 564h1v88h-1zM112 648h1v4h-1zM40 651h3v1h-3zM501 605h1v48h-1zM550 640h1v13h-1zM543 647h1v6h-1zM508 648h1v5h-1zM105 652h4v1h-4zM110 652h3v1h-3zM543 653h4v1h-4zM548 653h3v1h-3zM501 653h4v1h-4zM506 653h3v1h-3zM40 654h4v1h-4zM393 654h1v1h-1zM693 650h1v7h-1zM40 655h1v2h-1zM340 633h1v25h-1zM333 647h1v11h-1zM40 657h3v1h-3zM333 658h4v1h-4zM338 658h3v1h-3zM100 641h1v19h-1zM393 659h1v1h-1zM580 635h1v26h-1zM573 650h1v11h-1zM40 658h1v3h-1zM57 660h4v1h-4zM46 660h1v1h-1zM63 660h4v1h-4zM69 660h4v1h-4zM95 660h6v1h-6zM40 661h4v1h-4zM578 661h3v1h-3zM45 661h2v1h-2zM573 661h4v1h-4zM72 661h1v2h-1zM60 661h1v2h-1zM69 661h1v2h-1zM400 630h1v34h-1zM57 663h4v1h-4zM69 663h4v1h-4zM393 664h4v1h-4zM398 664h3v1h-3zM50 647h1v19h-1zM40 664h1v2h-1zM63 661h1v6h-1zM66 661h1v6h-1zM57 664h1v3h-1zM50 666h2v1h-2zM46 662h1v6h-1zM72 664h1v4h-1zM43 664h1v4h-1zM40 666h2v2h-2zM57 667h4v1h-4zM63 667h4v1h-4zM394 665h1v4h-1zM42 668h2v2h-2zM393 669h2v1h-2zM40 668h1v4h-1zM43 670h1v2h-1zM394 670h1v4h-1zM393 674h2v1h-2zM40 674h4v1h-4zM40 675h1v2h-1zM40 677h4v1h-4zM394 675h1v4h-1zM315 638h2v42h-2zM375 639h2v41h-2zM369 640h2v40h-2zM381 640h2v40h-2zM303 642h2v38h-2zM351 642h2v38h-2zM363 643h2v37h-2zM357 643h2v37h-2zM339 659h2v21h-2zM100 661h1v19h-1zM693 662h1v18h-1zM393 679h2v1h-2zM43 678h1v3h-1zM698 680h2v1h-2zM693 680h4v1h-4zM57 680h4v1h-4zM63 680h4v1h-4zM69 680h4v1h-4zM95 680h6v1h-6zM45 680h4v1h-4zM327 638h2v44h-2zM309 642h2v40h-2zM304 680h1v2h-1zM40 681h4v1h-4zM369 681h1v1h-1zM351 681h1v2h-1zM375 681h2v2h-2zM69 681h1v2h-1zM382 680h1v4h-1zM358 680h1v4h-1zM364 680h1v4h-1zM394 680h1v4h-1zM315 681h2v3h-2zM57 681h1v3h-1zM303 682h1v2h-1zM69 683h4v1h-4zM327 683h2v1h-2zM393 684h2v1h-2zM57 684h4v1h-4zM41 684h2v1h-2zM50 667h1v19h-1zM370 682h1v4h-1zM309 682h1v4h-1zM303 685h1v1h-1zM48 681h1v6h-1zM45 681h1v6h-1zM339 681h1v6h-1zM63 681h1v6h-1zM66 681h1v6h-1zM72 684h1v3h-1zM375 684h1v3h-1zM351 684h2v3h-2zM315 685h1v2h-1zM57 685h1v2h-1zM60 685h1v2h-1zM50 686h2v1h-2zM382 685h1v3h-1zM358 685h1v3h-1zM364 685h1v3h-1zM310 686h1v2h-1zM57 687h4v1h-4zM63 687h4v1h-4zM69 687h4v1h-4zM45 687h4v1h-4zM394 685h1v4h-1zM393 689h2v1h-2zM41 685h1v6h-1zM41 691h2v1h-2zM394 690h1v4h-1zM393 694h2v1h-2zM40 694h5v1h-5zM394 695h1v4h-1zM100 681h1v19h-1zM699 681h1v19h-1zM555 634h2v67h-2zM165 634h2v67h-2zM171 634h2v67h-2zM177 635h2v66h-2zM189 636h2v65h-2zM255 636h2v65h-2zM183 636h2v65h-2zM195 637h2v64h-2zM321 638h2v63h-2zM225 638h2v63h-2zM423 638h2v63h-2zM231 638h2v63h-2zM147 639h2v62h-2zM153 639h2v62h-2zM297 639h2v62h-2zM465 639h2v62h-2zM657 639h2v62h-2zM129 639h2v62h-2zM135 639h2v62h-2zM471 639h2v62h-2zM159 639h2v62h-2zM387 639h2v62h-2zM447 639h2v62h-2zM141 639h2v62h-2zM417 639h2v62h-2zM201 640h2v61h-2zM207 640h2v61h-2zM267 640h2v61h-2zM261 640h2v61h-2zM597 640h2v61h-2zM237 640h2v61h-2zM663 641h2v60h-2zM483 642h2v59h-2zM609 642h2v59h-2zM435 642h2v59h-2zM345 642h2v59h-2zM429 642h2v59h-2zM585 642h2v59h-2zM591 642h2v59h-2zM603 642h2v59h-2zM615 643h2v58h-2zM117 643h2v58h-2zM675 643h2v58h-2zM285 643h2v58h-2zM441 643h2v58h-2zM291 643h2v58h-2zM477 643h2v58h-2zM537 643h2v58h-2zM567 643h2v58h-2zM669 643h2v58h-2zM123 644h2v57h-2zM561 644h2v57h-2zM525 644h2v57h-2zM405 644h2v57h-2zM411 644h2v57h-2zM531 644h2v57h-2zM273 645h2v56h-2zM279 645h2v56h-2zM213 646h2v55h-2zM489 646h2v55h-2zM219 646h2v55h-2zM495 646h2v55h-2zM621 646h2v55h-2zM681 646h2v55h-2zM627 646h2v55h-2zM243 647h2v54h-2zM519 647h2v54h-2zM249 647h2v54h-2zM513 647h2v54h-2zM645 648h2v53h-2zM651 648h2v53h-2zM687 650h2v51h-2zM639 651h2v50h-2zM459 651h2v50h-2zM453 651h2v50h-2zM633 651h2v50h-2zM105 653h2v48h-2zM111 653h2v48h-2zM543 654h2v47h-2zM549 654h2v47h-2zM507 654h2v47h-2zM501 654h2v47h-2zM333 659h2v42h-2zM579 662h2v39h-2zM573 662h2v39h-2zM399 665h2v36h-2zM693 681h2v20h-2zM327 685h2v16h-2zM303 686h2v15h-2zM369 686h2v15h-2zM339 688h2v13h-2zM363 688h2v13h-2zM315 688h2v13h-2zM381 688h2v13h-2zM309 688h2v13h-2zM375 688h2v13h-2zM357 688h2v13h-2zM351 688h2v13h-2zM393 699h2v2h-2zM699 700h2v1h-2zM57 700h4v1h-4zM63 700h4v1h-4zM69 700h4v1h-4zM95 700h6v1h-6zM45 700h4v1h-4zM42 695h1v7h-1zM43 704h1v1h-1zM50 687h1v19h-1zM100 701h1v5h-1zM160 701h1v5h-1zM220 701h1v5h-1zM280 701h1v5h-1zM340 701h1v5h-1zM400 701h1v5h-1zM460 701h1v5h-1zM520 701h1v5h-1zM640 701h1v5h-1zM580 701h1v5h-1zM700 701h1v5h-1zM40 704h1v2h-1zM42 705h1v1h-1zM72 701h1v6h-1zM45 701h1v6h-1zM63 701h1v6h-1zM60 701h1v6h-1zM69 701h1v6h-1zM48 701h1v6h-1zM57 701h1v6h-1zM66 701h1v6h-1zM41 706h2v1h-2zM50 706h2v1h-2zM45 707h4v1h-4zM63 707h4v1h-4zM57 707h4v1h-4zM69 707h4v1h-4zM41 707h1v5h-1zM448 715h4v1h-4zM466 715h4v1h-4zM586 715h4v1h-4zM388 715h4v1h-4zM508 715h4v1h-4zM526 715h4v1h-4zM628 715h4v1h-4zM646 715h4v1h-4zM100 715h4v1h-4zM688 715h4v1h-4zM568 715h4v1h-4zM160 715h4v1h-4zM706 715h4v1h-4zM106 715h4v1h-4zM340 715h4v1h-4zM148 715h4v1h-4zM221 715h1v1h-1zM400 715h4v1h-4zM166 715h4v1h-4zM281 715h1v1h-1zM88 715h4v1h-4zM226 715h4v1h-4zM268 715h4v1h-4zM460 715h4v1h-4zM406 715h4v1h-4zM520 715h4v1h-4zM286 715h4v1h-4zM208 715h4v1h-4zM328 715h4v1h-4zM346 715h4v1h-4zM700 715h4v1h-4zM220 716h2v1h-2zM280 716h2v1h-2zM526 716h1v2h-1zM403 716h1v2h-1zM646 716h1v2h-1zM343 716h1v2h-1zM463 716h1v2h-1zM523 716h1v2h-1zM166 716h1v2h-1zM286 716h1v2h-1zM406 716h1v2h-1zM700 716h1v2h-1zM582 715h1v4h-1zM642 715h1v4h-1zM640 715h1v4h-1zM580 715h1v4h-1zM526 718h4v1h-4zM646 718h4v1h-4zM340 718h4v1h-4zM400 718h4v1h-4zM166 718h4v1h-4zM460 718h4v1h-4zM406 718h4v1h-4zM520 718h4v1h-4zM286 718h4v1h-4zM700 718h4v1h-4zM640 719h4v1h-4zM580 719h4v1h-4zM163 716h1v6h-1zM691 716h1v6h-1zM508 716h1v6h-1zM388 716h1v6h-1zM466 716h1v6h-1zM628 716h1v6h-1zM109 716h1v6h-1zM100 716h1v6h-1zM91 716h1v6h-1zM568 716h1v6h-1zM151 716h1v6h-1zM688 716h1v6h-1zM706 716h1v6h-1zM160 716h1v6h-1zM211 716h1v6h-1zM229 716h1v6h-1zM349 716h1v6h-1zM271 716h1v6h-1zM331 716h1v6h-1zM106 716h1v6h-1zM469 716h1v6h-1zM391 716h1v6h-1zM148 716h1v6h-1zM88 716h1v6h-1zM226 716h1v6h-1zM268 716h1v6h-1zM451 716h1v6h-1zM511 716h1v6h-1zM208 716h1v6h-1zM328 716h1v6h-1zM103 716h1v6h-1zM346 716h1v6h-1zM571 716h1v6h-1zM589 716h1v6h-1zM709 716h1v6h-1zM631 716h1v6h-1zM448 716h1v6h-1zM586 716h1v6h-1zM169 719h1v3h-1zM463 719h1v3h-1zM523 719h1v3h-1zM289 719h1v3h-1zM340 719h1v3h-1zM703 719h1v3h-1zM400 719h1v3h-1zM529 719h1v3h-1zM409 719h1v3h-1zM649 719h1v3h-1zM154 721h1v1h-1zM274 721h1v1h-1zM394 721h1v1h-1zM334 721h1v1h-1zM574 721h1v1h-1zM454 721h1v1h-1zM514 721h1v1h-1zM694 721h1v1h-1zM634 721h1v1h-1zM214 721h1v1h-1zM94 721h1v1h-1zM221 717h1v6h-1zM281 717h1v6h-1zM582 720h1v3h-1zM642 720h1v3h-1zM448 722h4v1h-4zM466 722h4v1h-4zM586 722h4v1h-4zM388 722h4v1h-4zM508 722h4v1h-4zM526 722h4v1h-4zM628 722h4v1h-4zM646 722h4v1h-4zM100 722h4v1h-4zM688 722h4v1h-4zM568 722h4v1h-4zM160 722h4v1h-4zM706 722h4v1h-4zM106 722h4v1h-4zM340 722h4v1h-4zM148 722h4v1h-4zM400 722h4v1h-4zM166 722h4v1h-4zM88 722h4v1h-4zM226 722h4v1h-4zM268 722h4v1h-4zM460 722h4v1h-4zM406 722h4v1h-4zM520 722h4v1h-4zM286 722h4v1h-4zM208 722h4v1h-4zM328 722h4v1h-4zM346 722h4v1h-4zM700 722h4v1h-4zM466 730h4v1h-4zM454 730h5v1h-5zM376 730h5v1h-5zM352 730h4v1h-4zM412 730h4v1h-4zM472 730h4v1h-4zM323 730h2v1h-2zM358 730h4v1h-4zM418 730h4v1h-4zM316 730h3v1h-3zM478 730h4v1h-4zM382 730h4v1h-4zM400 730h4v1h-4zM443 730h2v1h-2zM364 730h4v1h-4zM460 730h4v1h-4zM424 730h4v1h-4zM328 730h4v1h-4zM430 730h5v1h-5zM334 730h5v1h-5zM394 730h1v2h-1zM408 730h1v2h-1zM346 730h1v2h-1zM342 730h1v2h-1zM448 730h1v2h-1zM481 731h1v2h-1zM412 731h1v2h-1zM472 731h1v2h-1zM358 731h1v2h-1zM418 731h1v2h-1zM478 731h1v2h-1zM400 731h1v2h-1zM460 731h1v2h-1zM364 731h1v2h-1zM415 731h1v2h-1zM424 731h1v2h-1zM328 731h1v2h-1zM397 730h1v4h-1zM349 730h1v4h-1zM451 730h1v4h-1zM407 732h1v2h-1zM343 732h1v2h-1zM346 732h2v2h-2zM448 732h2v2h-2zM409 732h1v2h-1zM341 732h1v2h-1zM394 732h2v2h-2zM460 733h3v1h-3zM412 733h4v1h-4zM478 733h4v1h-4zM472 733h3v1h-3zM364 733h4v1h-4zM358 733h3v1h-3zM424 733h4v1h-4zM328 733h4v1h-4zM418 733h3v1h-3zM400 733h3v1h-3zM341 734h3v1h-3zM468 734h2v1h-2zM407 734h3v1h-3zM450 734h2v2h-2zM478 734h2v2h-2zM396 734h2v2h-2zM348 734h2v2h-2zM412 734h2v2h-2zM407 735h1v1h-1zM343 735h1v1h-1zM409 735h1v1h-1zM341 735h1v1h-1zM443 731h1v6h-1zM466 731h1v6h-1zM352 731h1v6h-1zM316 731h1v6h-1zM385 731h1v6h-1zM382 731h1v6h-1zM323 731h1v6h-1zM319 731h1v6h-1zM472 734h1v3h-1zM427 734h1v3h-1zM358 734h1v3h-1zM367 734h1v3h-1zM418 734h1v3h-1zM331 734h1v3h-1zM400 734h1v3h-1zM460 734h1v3h-1zM469 735h1v2h-1zM480 736h1v1h-1zM414 736h1v1h-1zM432 731h1v7h-1zM456 731h1v7h-1zM336 731h1v7h-1zM378 731h1v7h-1zM394 734h1v4h-1zM346 734h1v4h-1zM448 734h1v4h-1zM397 736h1v2h-1zM412 736h1v2h-1zM344 736h1v2h-1zM349 736h1v2h-1zM340 736h1v2h-1zM478 736h1v2h-1zM410 736h1v2h-1zM451 736h1v2h-1zM406 736h1v2h-1zM466 737h4v1h-4zM481 737h1v1h-1zM352 737h4v1h-4zM472 737h4v1h-4zM323 737h2v1h-2zM358 737h4v1h-4zM418 737h4v1h-4zM316 737h3v1h-3zM382 737h4v1h-4zM400 737h4v1h-4zM443 737h2v1h-2zM364 737h4v1h-4zM460 737h4v1h-4zM415 737h1v1h-1zM424 737h4v1h-4zM328 737h4v1h-4zM750 451h1v299h-1zM50 707h1v43h-1zM50 750h701v1h-701z"/>
<path fill="#0000ff" d="M398 101h1v15h-1zM395 101h2v15h-2zM401 102h2v15h-2zM404 102h1v15h-1zM397 116h2v30h-2zM395 116h1v30h-1zM401 117h3v30h-3zM396 146h3v31h-3zM391 285h2v2h-2zM407 285h3v2h-3zM390 287h3v2h-3zM385 296h2v1h-2zM401 147h4v154h-4zM395 177h4v124h-4zM407 287h4v14h-4zM389 289h4v12h-4zM413 296h4v5h-4zM383 297h4v4h-4zM377 299h4v2h-4zM419 299h4v2h-4zM431 300h4v1h-4zM371 300h4v1h-4zM365 300h4v1h-4zM425 300h4v1h-4zM101 501h2v12h-2zM104 501h1v12h-1zM101 513h3v26h-3zM500 571h1v6h-1zM497 571h2v6h-2zM404 583h1v5h-1zM499 577h1v12h-1zM497 577h1v12h-1zM401 583h2v6h-2zM498 589h2v2h-2zM403 589h1v9h-1zM344 598h1v3h-1zM498 591h3v11h-3zM584 599h1v3h-1zM401 589h1v14h-1zM403 598h2v5h-2zM341 598h2v5h-2zM581 599h2v5h-2zM343 603h1v6h-1zM583 604h1v5h-1zM341 603h1v10h-1zM343 609h2v4h-2zM581 604h1v10h-1zM583 609h2v5h-2zM402 603h3v14h-3zM254 618h1v1h-1zM251 618h2v2h-2zM302 620h1v1h-1zM299 620h2v1h-2zM253 620h1v2h-1zM342 613h3v10h-3zM554 622h1v1h-1zM299 621h1v3h-1zM301 621h1v3h-1zM551 622h2v2h-2zM269 623h2v1h-2zM272 623h1v1h-1zM582 614h3v11h-3zM251 620h1v5h-1zM253 622h2v3h-2zM224 624h1v1h-1zM300 624h2v1h-2zM553 624h1v1h-1zM446 624h1v1h-1zM443 624h2v1h-2zM221 624h2v1h-2zM611 625h2v1h-2zM614 625h1v1h-1zM464 625h1v1h-1zM269 624h1v3h-1zM271 624h1v3h-1zM300 625h3v2h-3zM445 625h1v2h-1zM461 625h2v2h-2zM223 625h1v2h-1zM443 625h1v3h-1zM445 627h2v1h-2zM629 627h2v1h-2zM463 627h1v1h-1zM270 627h2v1h-2zM551 624h1v5h-1zM553 625h2v4h-2zM221 625h1v4h-1zM611 626h1v3h-1zM613 626h1v3h-1zM632 627h1v2h-1zM223 627h2v2h-2zM252 625h3v5h-3zM270 628h3v2h-3zM644 629h1v1h-1zM641 629h2v1h-2zM461 627h1v4h-1zM444 628h3v3h-3zM629 628h1v3h-1zM463 628h2v3h-2zM233 629h1v2h-1zM235 629h1v2h-1zM631 629h1v2h-1zM197 630h1v1h-1zM281 630h2v1h-2zM284 630h1v1h-1zM199 630h1v1h-1zM612 629h3v3h-3zM198 631h2v1h-2zM161 631h1v1h-1zM163 631h2v1h-2zM234 631h3v1h-3zM222 629h3v4h-3zM643 630h1v3h-1zM283 631h1v2h-1zM630 631h2v2h-2zM281 631h1v2h-1zM209 632h1v1h-1zM212 632h1v1h-1zM641 630h1v4h-1zM162 632h3v2h-3zM535 632h1v2h-1zM533 632h1v2h-1zM630 633h3v1h-3zM643 633h2v1h-2zM367 633h1v1h-1zM552 629h3v6h-3zM462 631h3v4h-3zM210 633h2v2h-2zM365 633h1v2h-1zM367 634h2v1h-2zM151 634h1v1h-1zM353 634h1v1h-1zM521 634h2v1h-2zM355 634h1v1h-1zM149 634h1v1h-1zM319 634h1v1h-1zM282 633h3v3h-3zM534 634h3v2h-3zM557 634h3v2h-3zM354 635h2v1h-2zM523 635h1v1h-1zM150 635h3v1h-3zM366 635h3v2h-3zM521 635h1v2h-1zM523 636h2v1h-2zM257 636h3v1h-3zM354 636h3v1h-3zM642 634h3v4h-3zM133 637h2v1h-2zM426 637h2v1h-2zM522 637h3v2h-3zM653 637h1v2h-1zM655 637h2v2h-2zM378 638h3v1h-3zM313 638h2v1h-2zM390 638h1v1h-1zM392 638h1v2h-1zM413 639h1v1h-1zM415 639h2v1h-2zM679 639h1v1h-1zM600 639h3v1h-3zM295 639h2v1h-2zM332 639h1v1h-1zM473 639h3v1h-3zM329 639h2v1h-2zM452 639h1v1h-1zM389 639h2v1h-2zM449 639h2v1h-2zM654 639h3v2h-3zM414 640h3v1h-3zM487 640h1v1h-1zM127 640h2v1h-2zM239 640h3v1h-3zM449 640h3v2h-3zM572 642h1v1h-1zM570 642h1v1h-1zM511 642h1v1h-1zM329 640h3v4h-3zM389 640h3v4h-3zM509 642h1v2h-1zM511 643h2v1h-2zM113 643h1v2h-1zM539 643h3v2h-3zM115 643h2v2h-2zM510 644h3v2h-3zM569 643h3v4h-3zM114 645h3v2h-3zM683 646h3v1h-3zM692 650h1v2h-1zM689 650h2v2h-2zM689 652h3v5h-3zM353 637h4v43h-4zM365 637h4v43h-4zM311 639h4v41h-4zM377 639h4v41h-4zM371 640h4v40h-4zM305 642h4v38h-4zM347 642h4v38h-4zM359 643h4v37h-4zM335 659h4v21h-4zM365 680h2v1h-2zM347 680h2v1h-2zM299 627h4v55h-4zM323 638h4v44h-4zM305 680h2v2h-2zM312 680h1v2h-1zM308 680h1v2h-1zM347 681h4v2h-4zM374 681h1v2h-1zM323 682h2v1h-2zM356 680h1v4h-1zM371 680h2v4h-2zM380 680h1v4h-1zM362 680h1v4h-1zM323 683h4v1h-4zM359 680h2v5h-2zM377 680h2v5h-2zM353 680h2v5h-2zM323 684h2v1h-2zM341 623h4v63h-4zM365 681h4v5h-4zM299 682h3v4h-3zM305 682h3v4h-3zM314 681h1v6h-1zM338 681h1v6h-1zM350 684h1v3h-1zM371 684h4v3h-4zM341 686h2v1h-2zM344 686h1v1h-1zM335 680h2v8h-2zM311 682h2v6h-2zM347 683h2v5h-2zM299 686h2v2h-2zM302 686h1v2h-1zM365 686h3v2h-3zM306 686h3v2h-3zM371 687h2v1h-2zM101 539h4v162h-4zM497 602h4v99h-4zM401 617h4v84h-4zM581 625h4v76h-4zM269 630h4v71h-4zM251 630h4v71h-4zM443 631h4v70h-4zM233 632h4v69h-4zM197 632h4v69h-4zM611 632h4v69h-4zM221 633h4v68h-4zM161 634h4v67h-4zM629 634h4v67h-4zM167 634h4v67h-4zM173 635h4v66h-4zM551 635h4v66h-4zM317 635h4v66h-4zM461 635h4v66h-4zM209 635h4v66h-4zM179 636h4v65h-4zM533 636h4v65h-4zM281 636h4v65h-4zM185 636h4v65h-4zM557 636h4v65h-4zM149 636h4v65h-4zM191 637h4v64h-4zM257 637h4v64h-4zM641 638h4v63h-4zM131 638h4v63h-4zM227 638h4v63h-4zM425 638h4v63h-4zM521 639h4v62h-4zM659 639h4v62h-4zM155 639h4v62h-4zM467 639h4v62h-4zM137 639h4v62h-4zM143 639h4v62h-4zM419 639h4v62h-4zM677 640h4v61h-4zM293 640h4v61h-4zM473 640h4v61h-4zM203 640h4v61h-4zM263 640h4v61h-4zM599 640h4v61h-4zM383 640h4v61h-4zM485 641h4v60h-4zM665 641h4v60h-4zM413 641h4v60h-4zM239 641h4v60h-4zM593 641h4v60h-4zM653 641h4v60h-4zM125 641h4v60h-4zM605 642h4v59h-4zM431 642h4v59h-4zM449 642h4v59h-4zM587 642h4v59h-4zM671 643h4v58h-4zM437 643h4v58h-4zM617 643h4v58h-4zM287 643h4v58h-4zM479 643h4v58h-4zM329 644h4v57h-4zM389 644h4v57h-4zM119 644h4v57h-4zM407 644h4v57h-4zM527 644h4v57h-4zM563 644h4v57h-4zM539 645h4v56h-4zM275 645h4v56h-4zM509 646h4v55h-4zM215 646h4v55h-4zM491 646h4v55h-4zM623 646h4v55h-4zM113 647h4v54h-4zM515 647h4v54h-4zM245 647h4v54h-4zM683 647h4v54h-4zM569 647h4v54h-4zM647 648h4v53h-4zM635 651h4v50h-4zM455 651h4v50h-4zM107 653h4v48h-4zM545 654h4v47h-4zM503 654h4v47h-4zM689 657h4v44h-4zM575 662h4v39h-4zM395 665h4v36h-4zM695 681h4v20h-4zM359 685h4v16h-4zM377 685h4v16h-4zM353 685h4v16h-4zM323 685h4v16h-4zM341 687h4v14h-4zM347 688h4v13h-4zM299 688h4v13h-4zM365 688h4v13h-4zM335 688h4v13h-4zM305 688h4v13h-4zM311 688h4v13h-4zM371 688h4v13h-4z"/>
<path fill="#ff0000" d="M483 45h4v1h-4zM495 45h4v1h-4zM453 45h4v1h-4zM417 45h4v1h-4zM471 45h4v1h-4zM411 45h4v1h-4zM465 45h4v1h-4zM429 45h4v1h-4zM435 45h4v1h-4zM489 45h4v1h-4zM477 45h4v1h-4zM425 45h1v2h-1zM401 45h1v2h-1zM409 45h1v2h-1zM405 45h1v2h-1zM435 46h1v2h-1zM417 46h1v2h-1zM411 46h1v2h-1zM420 46h1v2h-1zM441 47h1v1h-1zM402 47h1v2h-1zM426 47h1v2h-1zM400 47h1v2h-1zM424 47h1v2h-1zM411 48h3v1h-3zM417 48h4v1h-4zM435 48h3v1h-3zM424 49h3v1h-3zM431 49h2v1h-2zM400 49h3v1h-3zM408 47h1v4h-1zM406 47h1v4h-1zM417 49h2v2h-2zM402 50h1v1h-1zM426 50h1v1h-1zM441 50h1v1h-1zM400 50h1v1h-1zM424 50h1v1h-1zM489 46h1v6h-1zM453 46h1v6h-1zM471 46h1v6h-1zM480 46h1v6h-1zM477 46h1v6h-1zM486 46h1v6h-1zM495 46h1v6h-1zM468 46h1v6h-1zM456 46h1v6h-1zM465 46h1v6h-1zM474 46h1v6h-1zM483 46h1v6h-1zM492 46h1v6h-1zM498 46h1v6h-1zM429 46h1v6h-1zM435 49h1v3h-1zM411 49h1v3h-1zM432 50h1v2h-1zM459 51h1v1h-1zM419 51h1v1h-1zM407 51h1v2h-1zM403 51h1v2h-1zM417 51h1v2h-1zM399 51h1v2h-1zM427 51h1v2h-1zM423 51h1v2h-1zM453 52h4v1h-4zM489 52h4v1h-4zM495 52h4v1h-4zM471 52h4v1h-4zM411 52h4v1h-4zM420 52h1v1h-1zM465 52h4v1h-4zM429 52h4v1h-4zM483 52h4v1h-4zM435 52h4v1h-4zM477 52h4v1h-4zM397 100h4v1h-4zM400 101h4v1h-4zM400 102h1v2h-1zM400 105h1v4h-1zM400 110h1v4h-1zM397 101h1v15h-1zM403 102h1v15h-1zM400 115h1v4h-1zM400 120h1v4h-1zM400 125h1v4h-1zM400 130h1v4h-1zM400 135h1v4h-1zM400 140h1v4h-1zM396 116h1v30h-1zM404 117h1v30h-1zM400 145h1v4h-1zM400 150h1v4h-1zM400 155h1v4h-1zM400 160h1v4h-1zM400 165h1v4h-1zM400 170h1v4h-1zM395 146h1v31h-1zM405 147h1v31h-1zM400 175h1v4h-1zM400 180h1v4h-1zM400 185h1v4h-1zM400 190h1v4h-1zM400 195h1v4h-1zM400 200h1v4h-1zM394 177h1v31h-1zM406 178h1v30h-1zM400 205h1v4h-1zM400 210h1v4h-1zM400 215h1v4h-1zM400 220h1v4h-1zM400 225h1v4h-1zM400 230h1v4h-1zM393 208h1v30h-1zM407 208h1v31h-1zM400 235h1v4h-1zM400 240h1v4h-1zM400 245h1v4h-1zM400 250h1v4h-1zM400 255h1v4h-1zM400 260h1v4h-1zM392 238h1v31h-1zM408 239h1v30h-1zM400 265h1v4h-1zM400 270h1v4h-1zM400 275h1v4h-1zM380 280h4v1h-4zM386 280h4v1h-4zM344 280h4v1h-4zM362 280h4v1h-4zM320 280h4v1h-4zM368 280h4v1h-4zM356 280h4v1h-4zM374 280h4v1h-4zM314 280h1v2h-1zM310 280h1v2h-1zM318 280h1v2h-1zM332 282h4v1h-4zM400 280h1v4h-1zM311 282h1v2h-1zM309 282h1v2h-1zM409 269h1v16h-1zM391 269h1v16h-1zM389 281h1v4h-1zM309 284h3v1h-3zM322 284h2v1h-2zM332 284h4v1h-4zM315 282h1v4h-1zM317 282h1v4h-1zM311 285h1v1h-1zM309 285h1v1h-1zM347 281h1v6h-1zM320 281h1v6h-1zM380 281h1v6h-1zM344 281h1v6h-1zM362 281h1v6h-1zM371 281h1v6h-1zM386 281h1v6h-1zM377 281h1v6h-1zM368 281h1v6h-1zM359 281h1v6h-1zM356 281h1v6h-1zM365 281h1v6h-1zM374 281h1v6h-1zM383 281h1v6h-1zM410 285h1v2h-1zM323 285h1v2h-1zM389 285h2v2h-2zM350 286h1v1h-1zM316 286h1v2h-1zM312 286h1v2h-1zM308 286h1v2h-1zM380 287h4v1h-4zM386 287h4v1h-4zM344 287h4v1h-4zM362 287h4v1h-4zM320 287h4v1h-4zM368 287h4v1h-4zM356 287h4v1h-4zM374 287h4v1h-4zM400 285h1v4h-1zM411 287h1v2h-1zM389 288h1v1h-1zM412 289h1v2h-1zM388 289h1v2h-1zM387 291h1v2h-1zM413 291h1v2h-1zM400 290h1v4h-1zM414 293h1v2h-1zM386 293h1v2h-1zM385 295h1v1h-1zM415 295h2v1h-2zM383 296h2v1h-2zM417 296h2v1h-2zM381 297h2v1h-2zM419 297h2v1h-2zM400 295h1v4h-1zM377 298h4v1h-4zM421 298h4v1h-4zM425 299h12v1h-12zM365 299h12v1h-12zM103 300h262v1h-262zM437 300h261v1h-261zM483 445h4v1h-4zM453 445h4v1h-4zM417 445h4v1h-4zM411 445h4v1h-4zM465 445h4v1h-4zM429 445h4v1h-4zM435 445h4v1h-4zM489 445h4v1h-4zM425 445h1v2h-1zM401 445h1v2h-1zM409 445h1v2h-1zM405 445h1v2h-1zM486 446h1v1h-1zM489 446h1v2h-1zM435 446h1v2h-1zM417 446h1v2h-1zM468 446h1v2h-1zM411 446h1v2h-1zM420 446h1v2h-1zM441 447h1v1h-1zM473 445h1v4h-1zM495 445h1v4h-1zM479 445h1v4h-1zM497 445h1v4h-1zM471 445h1v4h-1zM477 445h1v4h-1zM402 447h1v2h-1zM426 447h1v2h-1zM400 447h1v2h-1zM424 447h1v2h-1zM411 448h3v1h-3zM417 448h4v1h-4zM435 448h3v1h-3zM465 448h4v1h-4zM489 448h4v1h-4zM495 449h4v1h-4zM471 449h4v1h-4zM424 449h3v1h-3zM477 449h4v1h-4zM431 449h2v1h-2zM400 449h3v1h-3zM485 447h1v4h-1zM408 447h1v4h-1zM406 447h1v4h-1zM417 449h2v2h-2zM402 450h1v1h-1zM426 450h1v1h-1zM441 450h1v1h-1zM400 450h1v1h-1zM424 450h1v1h-1zM453 446h1v6h-1zM456 446h1v6h-1zM429 446h1v6h-1zM411 449h1v3h-1zM435 449h1v3h-1zM465 449h1v3h-1zM492 449h1v3h-1zM432 450h1v2h-1zM459 451h1v1h-1zM419 451h1v1h-1zM473 450h1v3h-1zM479 450h1v3h-1zM497 450h1v3h-1zM407 451h1v2h-1zM403 451h1v2h-1zM417 451h1v2h-1zM399 451h1v2h-1zM427 451h1v2h-1zM423 451h1v2h-1zM484 451h1v2h-1zM453 452h4v1h-4zM489 452h4v1h-4zM411 452h4v1h-4zM420 452h1v1h-1zM465 452h4v1h-4zM429 452h4v1h-4zM435 452h4v1h-4zM393 500h1v4h-1zM393 505h1v4h-1zM103 500h1v13h-1zM393 510h1v4h-1zM393 515h1v4h-1zM393 520h1v4h-1zM393 525h1v4h-1zM393 530h1v4h-1zM104 513h1v26h-1zM393 535h1v4h-1zM393 540h1v4h-1zM393 545h1v4h-1zM393 550h1v4h-1zM393 555h1v4h-1zM105 539h1v25h-1zM393 560h1v4h-1zM393 565h1v4h-1zM393 570h1v4h-1zM499 570h1v7h-1zM393 575h1v4h-1zM393 580h1v4h-1zM403 582h1v6h-1zM106 564h1v25h-1zM498 577h1v12h-1zM393 585h1v4h-1zM403 588h2v1h-2zM500 577h1v14h-1zM393 590h1v4h-1zM404 589h1v9h-1zM393 595h1v4h-1zM343 597h1v4h-1zM497 589h1v13h-1zM583 598h1v4h-1zM402 589h1v14h-1zM343 601h2v2h-2zM393 600h1v4h-1zM583 602h2v2h-2zM501 591h1v14h-1zM405 598h1v10h-1zM344 603h1v6h-1zM584 604h1v5h-1zM393 605h1v4h-1zM342 603h1v10h-1zM496 602h1v12h-1zM582 604h1v10h-1zM393 610h1v4h-1zM107 589h1v26h-1zM345 609h1v7h-1zM585 609h1v7h-1zM401 603h1v14h-1zM406 608h1v10h-1zM502 605h1v14h-1zM393 615h1v4h-1zM253 617h1v2h-1zM253 619h2v1h-2zM301 619h1v2h-1zM254 620h1v2h-1zM341 613h1v10h-1zM346 616h1v7h-1zM553 621h1v2h-1zM586 616h1v8h-1zM393 620h1v4h-1zM300 621h1v3h-1zM271 622h1v2h-1zM553 623h2v1h-2zM581 614h1v11h-1zM252 620h1v5h-1zM302 621h1v4h-1zM255 622h1v3h-1zM445 623h1v2h-1zM223 623h1v2h-1zM554 624h1v1h-1zM613 624h1v2h-1zM463 624h1v2h-1zM495 614h1v13h-1zM270 624h1v3h-1zM299 624h1v3h-1zM224 625h1v2h-1zM555 625h1v2h-1zM446 625h1v2h-1zM463 626h2v1h-2zM407 618h1v10h-1zM272 624h1v4h-1zM444 625h1v3h-1zM256 625h1v3h-1zM631 626h1v2h-1zM464 627h1v1h-1zM552 624h1v5h-1zM393 625h1v4h-1zM303 625h1v4h-1zM222 625h1v4h-1zM614 626h1v3h-1zM612 626h1v3h-1zM225 627h1v2h-1zM556 627h1v2h-1zM630 628h2v1h-2zM235 628h1v1h-1zM400 617h1v13h-1zM251 625h1v5h-1zM269 627h1v3h-1zM447 627h1v3h-1zM643 628h1v2h-1zM465 628h1v2h-1zM199 629h1v1h-1zM347 623h1v8h-1zM587 624h1v7h-1zM462 627h1v4h-1zM298 627h1v4h-1zM443 628h1v3h-1zM257 628h1v3h-1zM283 629h1v2h-1zM234 629h1v2h-1zM557 629h1v2h-1zM630 629h1v2h-1zM236 629h1v2h-1zM198 630h1v1h-1zM163 630h2v1h-2zM273 628h1v4h-1zM615 629h1v3h-1zM611 629h1v3h-1zM304 629h1v3h-1zM226 629h1v3h-1zM200 630h1v2h-1zM268 630h1v2h-1zM448 630h1v2h-1zM165 631h2v1h-2zM535 631h1v1h-1zM233 631h1v1h-1zM197 631h1v1h-1zM211 631h1v1h-1zM162 631h1v1h-1zM503 619h1v14h-1zM340 623h1v10h-1zM632 629h1v4h-1zM221 629h1v4h-1zM466 630h1v3h-1zM644 630h1v3h-1zM558 631h1v2h-1zM237 631h1v2h-1zM284 631h1v2h-1zM282 631h1v2h-1zM167 632h2v1h-2zM367 632h1v1h-1zM210 632h2v1h-2zM393 630h1v4h-1zM642 630h1v4h-1zM250 630h1v4h-1zM297 631h1v3h-1zM629 631h1v3h-1zM258 631h1v3h-1zM536 632h1v2h-1zM196 632h1v2h-1zM201 632h1v2h-1zM232 632h1v2h-1zM610 632h1v2h-1zM161 632h1v2h-1zM534 632h1v2h-1zM227 632h1v2h-1zM169 633h4v1h-4zM151 633h1v1h-1zM559 633h1v1h-1zM523 633h1v1h-1zM368 633h1v1h-1zM355 633h1v1h-1zM319 633h1v1h-1zM580 625h1v10h-1zM551 629h1v6h-1zM442 631h1v4h-1zM461 631h1v4h-1zM274 632h1v3h-1zM449 632h1v3h-1zM616 632h1v3h-1zM267 632h1v3h-1zM209 633h1v2h-1zM366 633h1v2h-1zM467 633h1v2h-1zM238 633h1v2h-1zM285 633h1v2h-1zM212 633h1v2h-1zM523 634h2v1h-2zM150 634h1v1h-1zM317 634h2v1h-2zM160 634h1v1h-1zM202 634h1v1h-1zM173 634h6v1h-6zM152 634h1v1h-1zM354 634h1v1h-1zM231 634h1v1h-1zM320 634h2v1h-2zM369 634h1v1h-1zM195 634h1v1h-1zM305 632h1v4h-1zM220 633h1v3h-1zM281 633h1v3h-1zM645 633h1v3h-1zM228 634h1v2h-1zM560 634h1v2h-1zM537 634h1v2h-1zM533 634h1v2h-1zM259 634h1v2h-1zM356 634h1v2h-1zM159 635h1v1h-1zM316 635h1v1h-1zM153 635h2v1h-2zM524 635h1v1h-1zM230 635h1v1h-1zM194 635h1v1h-1zM322 635h1v1h-1zM208 635h1v1h-1zM149 635h1v1h-1zM179 635h12v1h-12zM633 633h1v4h-1zM609 634h1v3h-1zM296 634h1v3h-1zM370 635h1v2h-1zM522 635h1v2h-1zM353 635h1v2h-1zM239 635h1v2h-1zM450 635h1v2h-1zM468 635h1v2h-1zM203 635h1v2h-1zM286 635h1v2h-1zM213 635h1v2h-1zM365 635h1v2h-1zM147 636h2v1h-2zM229 636h2v1h-2zM133 636h2v1h-2zM155 636h1v1h-1zM357 636h1v1h-1zM323 636h2v1h-2zM207 636h1v1h-1zM191 636h3v1h-3zM314 636h2v1h-2zM655 636h2v1h-2zM260 636h2v1h-2zM426 636h2v1h-2zM408 628h1v10h-1zM348 631h1v7h-1zM588 631h1v7h-1zM641 634h1v4h-1zM628 634h1v4h-1zM266 635h1v3h-1zM441 635h1v3h-1zM617 635h1v3h-1zM532 636h1v2h-1zM280 636h1v2h-1zM561 636h1v2h-1zM538 636h1v2h-1zM525 636h1v2h-1zM158 636h1v2h-1zM390 637h2v1h-2zM423 637h3v1h-3zM135 637h3v1h-3zM352 637h1v1h-1zM378 637h3v1h-3zM325 637h4v1h-4zM371 637h1v1h-1zM146 637h1v1h-1zM156 637h1v1h-1zM229 637h1v1h-1zM131 637h2v1h-2zM469 637h1v1h-1zM262 637h1v1h-1zM313 637h1v1h-1zM364 637h1v1h-1zM428 637h1v1h-1zM657 637h3v1h-3zM494 627h1v12h-1zM249 634h1v5h-1zM393 635h1v4h-1zM275 635h1v4h-1zM206 637h1v2h-1zM358 637h1v2h-1zM240 637h1v2h-1zM295 637h1v2h-1zM654 637h1v2h-1zM204 637h1v2h-1zM287 637h1v2h-1zM521 637h1v2h-1zM387 638h3v1h-3zM526 638h1v1h-1zM263 638h3v1h-3zM129 638h2v1h-2zM138 638h8v1h-8zM349 638h1v1h-1zM679 638h1v1h-1zM600 638h3v1h-3zM375 638h3v1h-3zM415 638h8v1h-8zM329 638h3v1h-3zM372 638h1v1h-1zM469 638h7v1h-7zM429 638h2v1h-2zM157 638h1v1h-1zM660 638h3v1h-3zM381 638h3v1h-3zM311 638h2v1h-2zM562 638h1v1h-1zM351 638h1v1h-1zM108 615h1v25h-1zM550 635h1v5h-1zM460 635h1v5h-1zM306 636h1v4h-1zM219 636h1v4h-1zM646 636h1v4h-1zM451 637h1v3h-1zM214 637h1v3h-1zM608 637h1v3h-1zM539 638h1v2h-1zM531 638h1v2h-1zM363 638h1v2h-1zM391 638h1v2h-1zM265 639h1v1h-1zM373 639h2v1h-2zM205 639h1v1h-1zM431 639h1v1h-1zM663 639h3v1h-3zM384 639h3v1h-3zM603 639h2v1h-2zM331 639h1v1h-1zM487 639h1v1h-1zM680 639h1v1h-1zM677 639h2v1h-2zM359 639h1v1h-1zM414 639h1v1h-1zM127 639h2v1h-2zM293 639h2v1h-2zM476 639h2v1h-2zM597 639h3v1h-3zM310 639h1v1h-1zM241 639h1v1h-1zM634 637h1v4h-1zM618 638h1v3h-1zM627 638h1v3h-1zM440 638h1v3h-1zM279 638h1v3h-1zM640 638h1v3h-1zM589 638h1v3h-1zM349 639h2v2h-2zM527 639h1v2h-1zM563 639h1v2h-1zM288 639h1v2h-1zM653 639h1v2h-1zM520 639h1v2h-1zM292 640h1v1h-1zM242 640h1v1h-1zM125 640h2v1h-2zM413 640h1v1h-1zM432 640h1v1h-1zM605 640h3v1h-3zM478 640h1v1h-1zM593 640h4v1h-4zM307 640h3v1h-3zM676 640h1v1h-1zM488 640h1v1h-1zM681 640h1v1h-1zM666 640h3v1h-3zM485 640h2v1h-2zM409 638h1v4h-1zM540 640h1v2h-1zM215 640h1v2h-1zM362 640h1v2h-1zM360 640h1v2h-1zM452 640h1v2h-1zM530 640h1v2h-1zM489 641h1v1h-1zM439 641h1v1h-1zM619 641h1v1h-1zM570 641h2v1h-2zM243 641h1v1h-1zM307 641h1v1h-1zM483 641h2v1h-2zM349 641h1v1h-1zM124 641h1v1h-1zM479 641h2v1h-2zM669 641h3v1h-3zM528 641h1v1h-1zM411 641h2v1h-2zM607 641h1v1h-1zM289 641h3v1h-3zM511 641h1v1h-1zM433 641h4v1h-4zM589 641h4v1h-4zM674 641h2v1h-2zM339 633h1v10h-1zM276 639h1v4h-1zM647 640h1v3h-1zM564 641h1v2h-1zM519 641h1v2h-1zM652 641h1v2h-1zM278 641h1v2h-1zM682 641h1v2h-1zM361 642h1v1h-1zM528 642h2v1h-2zM490 642h1v1h-1zM541 642h1v1h-1zM567 642h3v1h-3zM409 642h2v1h-2zM289 642h1v1h-1zM122 642h2v1h-2zM115 642h4v1h-4zM672 642h2v1h-2zM481 642h2v1h-2zM571 642h1v1h-1zM619 642h2v1h-2zM437 642h3v1h-3zM512 642h1v1h-1zM399 630h1v14h-1zM248 639h1v5h-1zM493 639h1v5h-1zM392 640h2v4h-2zM459 640h1v4h-1zM332 640h1v4h-1zM218 640h1v4h-1zM626 641h1v3h-1zM453 642h1v2h-1zM216 642h1v2h-1zM244 642h1v2h-1zM510 642h1v2h-1zM683 643h1v1h-1zM565 643h2v1h-2zM491 643h1v1h-1zM621 643h2v1h-2zM529 643h1v1h-1zM119 643h3v1h-3zM409 643h1v1h-1zM513 643h2v1h-2zM549 640h1v5h-1zM639 641h1v4h-1zM635 641h1v4h-1zM114 643h1v2h-1zM651 643h1v2h-1zM518 643h1v2h-1zM542 643h1v2h-1zM277 643h1v2h-1zM247 644h1v1h-1zM492 644h2v1h-2zM623 644h3v1h-3zM515 644h1v1h-1zM684 644h1v1h-1zM245 644h1v1h-1zM579 635h1v11h-1zM648 643h1v3h-1zM509 644h1v2h-1zM454 644h1v2h-1zM217 644h1v2h-1zM516 645h2v1h-2zM625 645h1v1h-1zM685 645h1v1h-1zM246 645h2v1h-2zM493 645h1v1h-1zM650 645h1v1h-1zM504 633h1v14h-1zM572 643h1v4h-1zM333 644h1v3h-1zM113 645h1v2h-1zM543 645h1v2h-1zM517 646h1v1h-1zM247 646h1v1h-1zM649 646h2v1h-2zM686 646h2v1h-2zM458 644h1v4h-1zM508 646h1v2h-1zM455 646h1v2h-1zM649 647h1v1h-1zM688 647h1v1h-1zM112 647h1v1h-1zM393 644h1v5h-1zM638 645h1v4h-1zM636 645h1v4h-1zM544 647h1v2h-1zM689 648h2v1h-2zM109 640h1v10h-1zM334 647h1v3h-1zM573 647h1v3h-1zM505 647h1v3h-1zM456 648h2v2h-2zM111 648h1v2h-1zM507 648h1v2h-1zM394 649h1v1h-1zM548 645h1v6h-1zM545 649h1v2h-1zM637 649h1v2h-1zM457 650h1v1h-1zM691 649h1v3h-1zM505 650h2v2h-2zM109 650h2v2h-2zM338 643h1v10h-1zM393 650h2v3h-2zM574 650h1v3h-1zM546 651h2v2h-2zM109 652h1v1h-1zM335 650h1v4h-1zM505 652h1v2h-1zM337 653h1v1h-1zM393 653h1v1h-1zM547 653h1v1h-1zM578 646h1v10h-1zM692 652h1v5h-1zM575 653h1v4h-1zM336 654h2v3h-2zM577 656h1v1h-1zM398 644h1v14h-1zM395 653h1v5h-1zM393 655h1v4h-1zM337 657h1v2h-1zM576 657h2v3h-2zM693 657h1v5h-1zM396 658h2v4h-2zM577 660h1v2h-1zM393 660h1v4h-1zM397 662h1v3h-1zM694 662h1v6h-1zM393 665h1v4h-1zM695 668h1v5h-1zM393 670h1v4h-1zM696 673h1v5h-1zM393 675h1v4h-1zM697 678h1v3h-1zM373 680h4v1h-4zM337 680h4v1h-4zM367 680h4v1h-4zM313 680h4v1h-4zM349 680h4v1h-4zM307 680h1v2h-1zM311 680h1v2h-1zM303 680h1v2h-1zM370 681h1v1h-1zM373 681h1v2h-1zM352 681h1v2h-1zM325 682h4v1h-4zM361 680h1v4h-1zM379 680h1v4h-1zM363 680h1v4h-1zM355 680h1v4h-1zM381 680h1v4h-1zM393 680h1v4h-1zM357 680h1v4h-1zM302 682h1v2h-1zM304 682h1v2h-1zM373 683h4v1h-4zM349 683h4v1h-4zM325 684h4v1h-4zM361 684h4v1h-4zM379 684h4v1h-4zM355 684h4v1h-4zM315 684h2v1h-2zM302 684h3v1h-3zM308 682h1v4h-1zM369 682h1v4h-1zM310 682h1v4h-1zM302 685h1v1h-1zM304 685h1v1h-1zM340 681h1v6h-1zM337 681h1v6h-1zM313 681h1v6h-1zM349 684h1v3h-1zM376 684h1v3h-1zM316 685h1v2h-1zM343 686h1v1h-1zM363 685h1v3h-1zM381 685h1v3h-1zM357 685h1v3h-1zM301 686h1v2h-1zM368 686h1v2h-1zM305 686h1v2h-1zM309 686h1v2h-1zM373 687h4v1h-4zM337 687h4v1h-4zM313 687h4v1h-4zM349 687h4v1h-4zM393 685h1v4h-1zM393 690h1v4h-1zM393 695h1v4h-1z"/>
<path fill="#d9d9d9" d="M101 100h293v1h-293zM401 100h300v1h-300zM520 101h1v19h-1zM640 101h1v19h-1zM340 101h1v19h-1zM160 101h1v19h-1zM580 101h1v19h-1zM220 101h1v19h-1zM700 101h1v19h-1zM460 101h1v19h-1zM280 101h1v19h-1zM101 120h293v1h-293zM406 120h295v1h-295zM520 121h1v19h-1zM640 121h1v19h-1zM340 121h1v19h-1zM160 121h1v19h-1zM580 121h1v19h-1zM220 121h1v19h-1zM700 121h1v19h-1zM460 121h1v19h-1zM280 121h1v19h-1zM101 140h293v1h-293zM406 140h295v1h-295zM520 141h1v19h-1zM640 141h1v19h-1zM340 141h1v19h-1zM160 141h1v19h-1zM580 141h1v19h-1zM220 141h1v19h-1zM700 141h1v19h-1zM460 141h1v19h-1zM280 141h1v19h-1zM101 160h293v1h-293zM406 160h295v1h-295zM520 161h1v19h-1zM640 161h1v19h-1zM340 161h1v19h-1zM160 161h1v19h-1zM580 161h1v19h-1zM220 161h1v19h-1zM700 161h1v19h-1zM460 161h1v19h-1zM280 161h1v19h-1zM101 180h293v1h-293zM407 180h294v1h-294zM520 181h1v19h-1zM640 181h1v19h-1zM340 181h1v19h-1zM160 181h1v19h-1zM580 181h1v19h-1zM220 181h1v19h-1zM700 181h1v19h-1zM460 181h1v19h-1zM280 181h1v19h-1zM101 200h293v1h-293zM407 200h294v1h-294zM520 201h1v19h-1zM640 201h1v19h-1zM340 201h1v19h-1zM160 201h1v19h-1zM580 201h1v19h-1zM220 201h1v19h-1zM700 201h1v19h-1zM460 201h1v19h-1zM280 201h1v19h-1zM406 220h1v1h-1zM408 220h293v1h-293zM101 220h292v1h-292zM520 221h1v19h-1zM640 221h1v19h-1zM340 221h1v19h-1zM160 221h1v19h-1zM580 221h1v19h-1zM220 221h1v19h-1zM700 221h1v19h-1zM460 221h1v19h-1zM280 221h1v19h-1zM409 240h292v1h-292zM406 240h2v1h-2zM101 240h291v1h-291zM393 240h1v1h-1zM520 241h1v19h-1zM640 241h1v19h-1zM340 241h1v19h-1zM160 241h1v19h-1zM580 241h1v19h-1zM220 241h1v19h-1zM700 241h1v19h-1zM460 241h1v19h-1zM280 241h1v19h-1zM409 260h292v1h-292zM406 260h2v1h-2zM101 260h291v1h-291zM393 260h1v1h-1zM520 261h1v19h-1zM640 261h1v19h-1zM340 261h1v19h-1zM160 261h1v19h-1zM580 261h1v19h-1zM220 261h1v19h-1zM700 261h1v19h-1zM460 261h1v19h-1zM280 261h1v19h-1zM101 280h209v1h-209zM366 280h2v1h-2zM378 280h2v1h-2zM384 280h2v1h-2zM324 280h20v1h-20zM319 280h1v1h-1zM348 280h8v1h-8zM406 280h3v1h-3zM315 280h3v1h-3zM410 280h291v1h-291zM390 280h1v1h-1zM311 280h3v1h-3zM392 280h2v1h-2zM372 280h2v1h-2zM360 280h2v1h-2zM520 281h1v19h-1zM640 281h1v19h-1zM340 281h1v19h-1zM160 281h1v19h-1zM580 281h1v19h-1zM220 281h1v19h-1zM700 281h1v19h-1zM460 281h1v19h-1zM280 281h1v19h-1zM394 500h307v1h-307zM106 500h287v1h-287zM520 501h1v19h-1zM640 501h1v19h-1zM340 501h1v19h-1zM160 501h1v19h-1zM400 501h1v19h-1zM580 501h1v19h-1zM220 501h1v19h-1zM700 501h1v19h-1zM460 501h1v19h-1zM280 501h1v19h-1zM394 520h307v1h-307zM106 520h287v1h-287zM520 521h1v19h-1zM640 521h1v19h-1zM340 521h1v19h-1zM160 521h1v19h-1zM400 521h1v19h-1zM580 521h1v19h-1zM220 521h1v19h-1zM700 521h1v19h-1zM460 521h1v19h-1zM280 521h1v19h-1zM394 540h307v1h-307zM106 540h287v1h-287zM520 541h1v19h-1zM640 541h1v19h-1zM340 541h1v19h-1zM160 541h1v19h-1zM400 541h1v19h-1zM580 541h1v19h-1zM220 541h1v19h-1zM700 541h1v19h-1zM460 541h1v19h-1zM280 541h1v19h-1zM394 560h307v1h-307zM106 560h287v1h-287zM520 561h1v19h-1zM640 561h1v19h-1zM340 561h1v19h-1zM160 561h1v19h-1zM400 561h1v19h-1zM580 561h1v19h-1zM220 561h1v19h-1zM700 561h1v19h-1zM460 561h1v19h-1zM280 561h1v19h-1zM107 580h286v1h-286zM502 580h199v1h-199zM394 580h102v1h-102zM400 581h1v1h-1zM340 581h1v16h-1zM580 581h1v17h-1zM520 581h1v19h-1zM640 581h1v19h-1zM160 581h1v19h-1zM220 581h1v19h-1zM700 581h1v19h-1zM460 581h1v19h-1zM280 581h1v19h-1zM346 600h47v1h-47zM106 600h1v1h-1zM394 600h6v1h-6zM108 600h232v1h-232zM406 600h90v1h-90zM586 600h115v1h-115zM502 600h78v1h-78zM520 601h1v19h-1zM640 601h1v19h-1zM160 601h1v19h-1zM220 601h1v19h-1zM700 601h1v19h-1zM460 601h1v19h-1zM280 601h1v19h-1zM502 620h1v1h-1zM347 620h46v1h-46zM406 620h1v1h-1zM587 620h114v1h-114zM256 620h42v1h-42zM394 620h6v1h-6zM109 620h141v1h-141zM408 620h87v1h-87zM304 620h36v1h-36zM106 620h2v1h-2zM504 620h76v1h-76zM220 621h1v2h-1zM460 621h1v3h-1zM640 621h1v7h-1zM280 621h1v8h-1zM160 621h1v9h-1zM520 621h1v12h-1zM700 621h1v19h-1zM361 640h1v1h-1zM110 640h14v1h-14zM219 640h1v1h-1zM604 640h1v1h-1zM526 640h1v1h-1zM528 640h2v1h-2zM358 640h2v1h-2zM454 640h5v1h-5zM406 640h3v1h-3zM682 640h19v1h-19zM216 640h2v1h-2zM531 640h1v1h-1zM346 640h3v1h-3zM646 640h1v1h-1zM616 640h2v1h-2zM538 640h2v1h-2zM586 640h3v1h-3zM410 640h2v1h-2zM502 640h2v1h-2zM277 640h2v1h-2zM286 640h2v1h-2zM479 640h5v1h-5zM441 640h1v1h-1zM490 640h3v1h-3zM363 640h1v1h-1zM635 640h5v1h-5zM244 640h4v1h-4zM590 640h2v1h-2zM608 640h2v1h-2zM648 640h4v1h-4zM249 640h1v1h-1zM289 640h3v1h-3zM670 640h6v1h-6zM494 640h2v1h-2zM564 640h15v1h-15zM562 640h1v1h-1zM433 640h7v1h-7zM274 640h2v1h-2zM394 640h5v1h-5zM106 640h3v1h-3zM430 640h2v1h-2zM505 640h15v1h-15zM619 640h8v1h-8zM541 640h8v1h-8zM214 640h1v1h-1zM351 640h1v1h-1zM334 640h5v1h-5zM304 640h3v1h-3zM700 641h1v19h-1zM398 660h2v1h-2zM394 660h2v1h-2zM574 660h3v1h-3zM694 660h7v1h-7zM578 660h2v1h-2zM700 661h1v39h-1z"/>
</svg>
</body></html>
